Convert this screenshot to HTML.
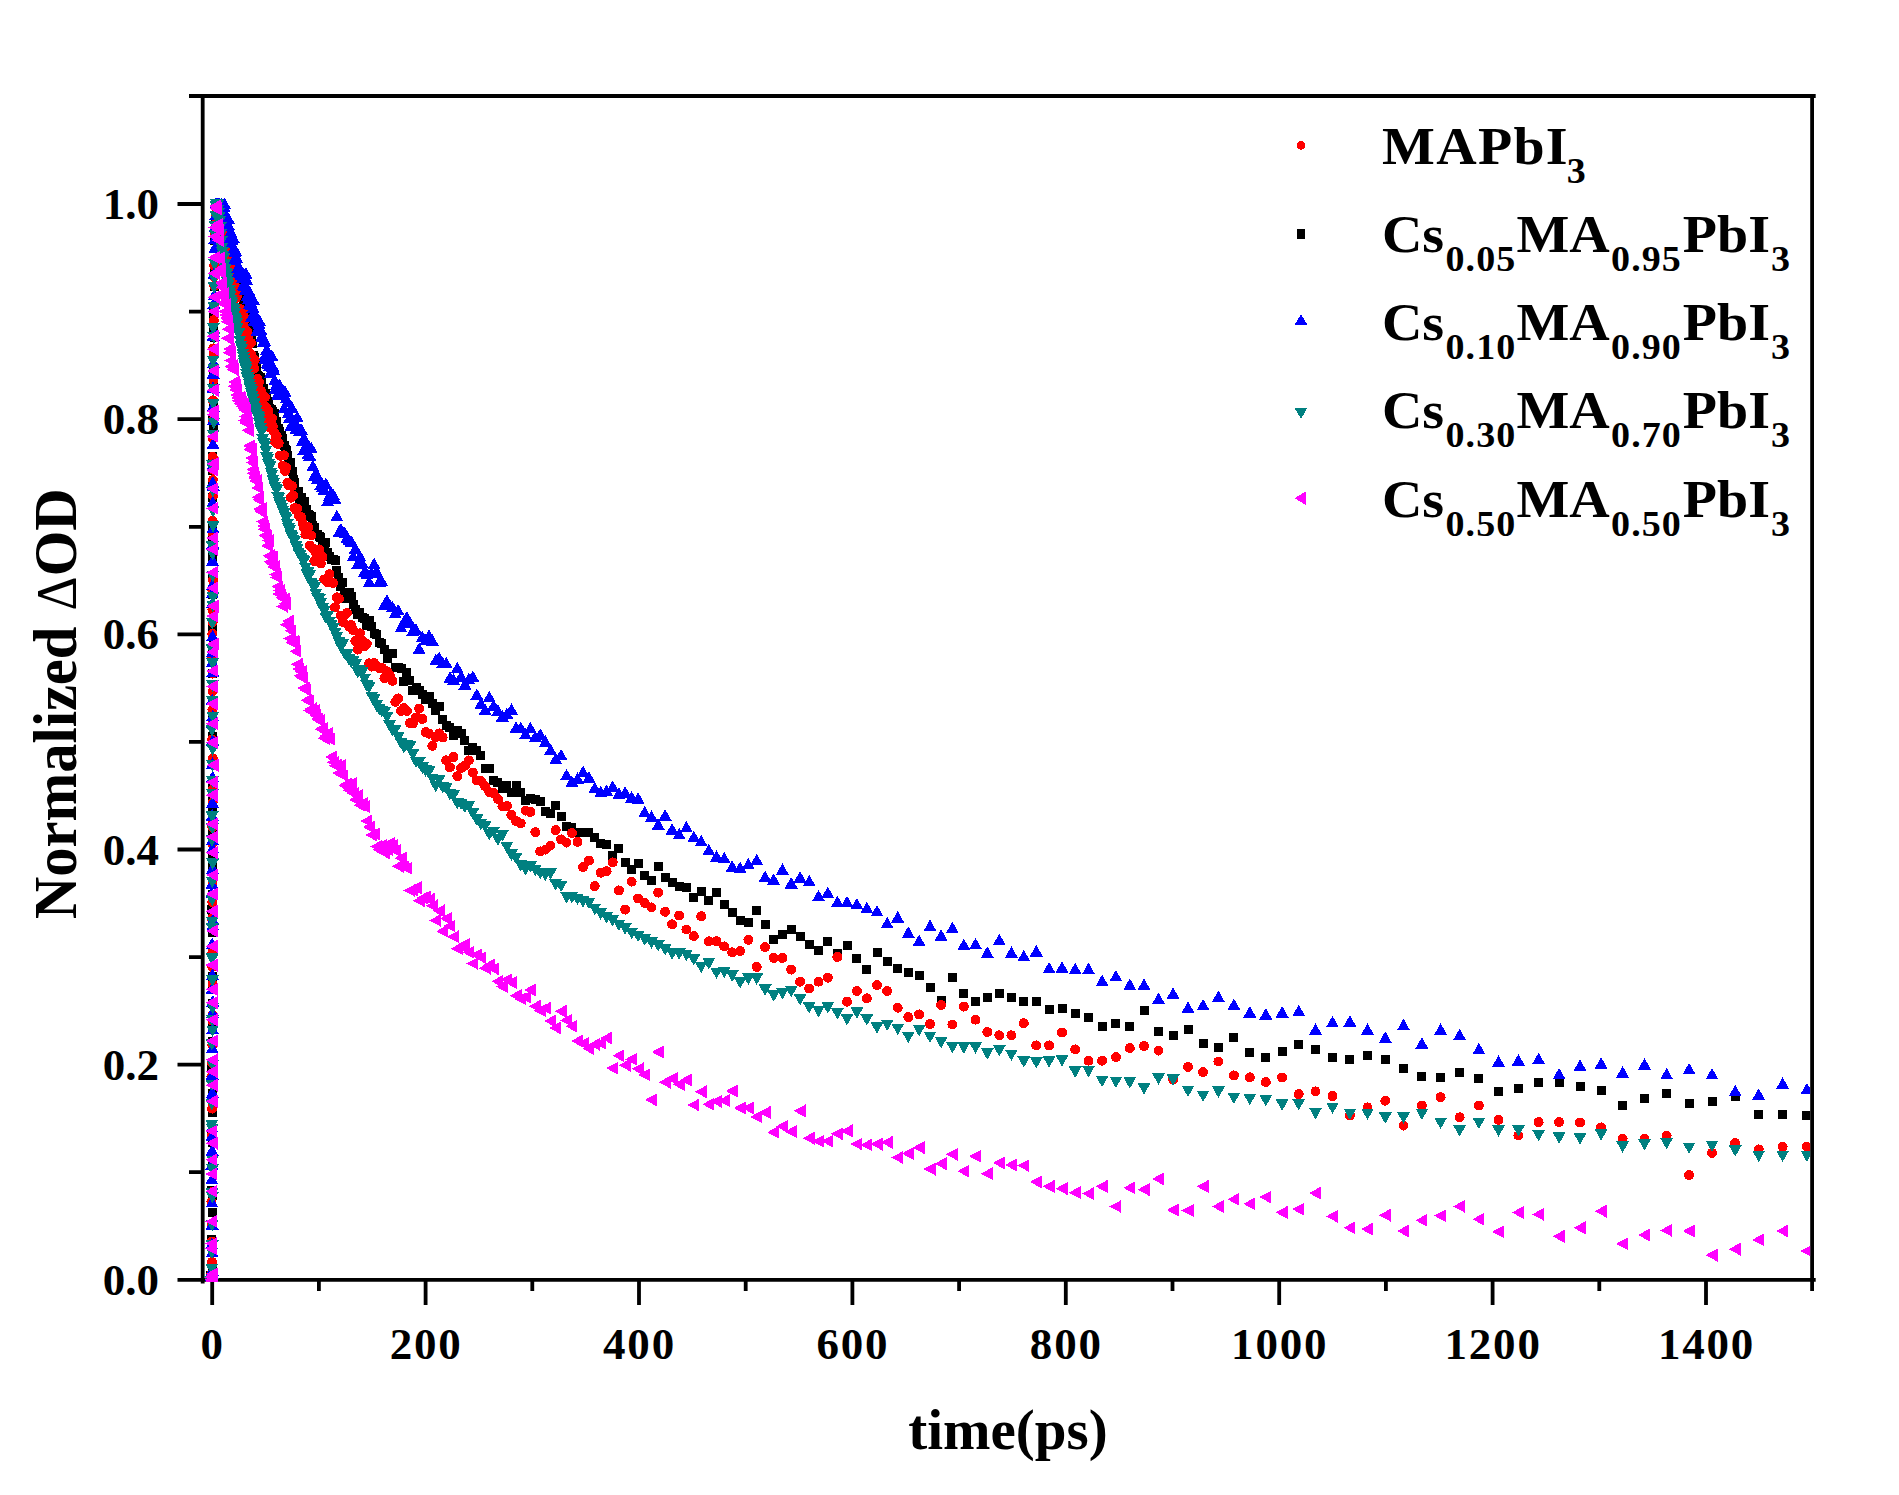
<!DOCTYPE html>
<html lang="en">
<head>
<meta charset="utf-8">
<title>Normalized ΔOD decay kinetics</title>
<style>
html,body{margin:0;padding:0;background:#fff;}
body{width:1899px;height:1495px;overflow:hidden;}
svg{display:block;}
text{font-family:"Liberation Serif",serif;font-weight:bold;fill:#000;}
.tick{font-size:45px;}
.lab{font-size:57px;}
.leg{font-size:56px;}
.sub{font-size:38px;}
</style>
</head>
<body>
<svg width="1899" height="1495" viewBox="0 0 1899 1495">
<rect width="1899" height="1495" fill="#fff"/>
<g stroke="#000" stroke-width="3.8" fill="none">
<path d="M202.7 94.1V1283.5"/>
<path d="M177.5 1279.9H1815.7"/>
<path d="M189 96.0H1815.7"/>
<path d="M1812.1 96.0V1291"/>
<path d="M212.2 1279.9v25M425.6 1279.9v25M639 1279.9v25M852.4 1279.9v25M1065.8 1279.9v25M1279.2 1279.9v25M1492.6 1279.9v25M1706 1279.9v25M318.9 1279.9v11M532.3 1279.9v11M745.7 1279.9v11M959.1 1279.9v11M1172.5 1279.9v11M1385.9 1279.9v11M1599.3 1279.9v11M177.5 1064.6H202.7M177.5 849.5H202.7M177.5 634.3H202.7M177.5 419.2H202.7M177.5 204H202.7M189 1172.2H202.7M189 957.1H202.7M189 741.9H202.7M189 526.8H202.7M189 311.6H202.7"/>
</g>
<defs><clipPath id="pc"><rect x="202.7" y="96.0" width="1607.4" height="1185.9"/></clipPath></defs>
<g clip-path="url(#pc)" shape-rendering="crispEdges">
<path fill="#000000" d="M206.4 1271h9v9h-9zM206.8 1275.9h9v9h-9zM206.9 1132h9v9h-9zM207.2 1234.9h9v9h-9zM207.2 1275.7h9v9h-9zM207.3 905.4h9v9h-9zM207.4 1063.8h9v9h-9zM207.4 1185.6h9v9h-9zM207.5 1264.3h9v9h-9zM207.5 1243.9h9v9h-9zM207.6 1277.5h9v9h-9zM207.6 1036.5h9v9h-9zM207.6 928h9v9h-9zM207.6 1089.3h9v9h-9zM207.6 1019.5h9v9h-9zM207.7 1072.4h9v9h-9zM207.7 910.1h9v9h-9zM207.7 1107.9h9v9h-9zM207.7 1137.5h9v9h-9zM207.7 972.4h9v9h-9zM207.8 1157h9v9h-9zM207.8 981.6h9v9h-9zM207.8 781.4h9v9h-9zM207.8 571.7h9v9h-9zM207.8 669.4h9v9h-9zM207.8 648.9h9v9h-9zM207.8 760.4h9v9h-9zM207.9 804.3h9v9h-9zM207.9 796.7h9v9h-9zM207.9 739.4h9v9h-9zM207.9 1191.4h9v9h-9zM207.9 696.1h9v9h-9zM208 1274.6h9v9h-9zM208 1207.8h9v9h-9zM208 452.3h9v9h-9zM208 589.8h9v9h-9zM208 828.4h9v9h-9zM208 998.7h9v9h-9zM208.1 852h9v9h-9zM208.1 861.9h9v9h-9zM208.1 601.6h9v9h-9zM208.1 709.3h9v9h-9zM208.1 522.2h9v9h-9zM208.1 552.8h9v9h-9zM208.2 948h9v9h-9zM208.2 622h9v9h-9zM208.2 890.3h9v9h-9zM208.2 493h9v9h-9zM208.3 478.5h9v9h-9zM208.3 731.6h9v9h-9zM208.3 1278h9v9h-9zM208.3 416.4h9v9h-9zM208.4 465.9h9v9h-9zM208.4 533.1h9v9h-9zM208.5 639.4h9v9h-9zM208.5 422.9h9v9h-9zM208.5 381.5h9v9h-9zM208.9 398.9h9v9h-9zM209 364.9h9v9h-9zM209.1 326.6h9v9h-9zM209.1 308.5h9v9h-9zM209.5 333h9v9h-9zM209.6 258.1h9v9h-9zM209.6 281.8h9v9h-9zM209.7 268h9v9h-9zM210.3 236.3h9v9h-9zM210.5 227.6h9v9h-9zM211 214.6h9v9h-9zM211.5 213.4h9v9h-9zM212 205.7h9v9h-9zM212.4 199.5h9v9h-9zM213 199.5h9v9h-9zM213.5 199.5h9v9h-9zM214 199.5h9v9h-9zM214.6 199.7h9v9h-9zM215.1 206.5h9v9h-9zM215.7 201.2h9v9h-9zM216.2 207.7h9v9h-9zM216.7 206.2h9v9h-9zM217.3 208.5h9v9h-9zM217.9 211.4h9v9h-9zM218.4 214.5h9v9h-9zM218.9 218.6h9v9h-9zM219.4 218.1h9v9h-9zM220 221.1h9v9h-9zM220.6 230.6h9v9h-9zM221.2 231.4h9v9h-9zM221.8 231.3h9v9h-9zM222.5 233h9v9h-9zM223.2 234.7h9v9h-9zM223.6 239.9h9v9h-9zM224.1 242.5h9v9h-9zM224.7 244.7h9v9h-9zM225.2 244.1h9v9h-9zM225.7 249.2h9v9h-9zM226.3 251.1h9v9h-9zM226.9 251.8h9v9h-9zM227.5 253h9v9h-9zM228.1 257.1h9v9h-9zM228.7 254.5h9v9h-9zM229.4 264h9v9h-9zM230 266.4h9v9h-9zM230.7 266h9v9h-9zM231.5 269.2h9v9h-9zM232.2 269.1h9v9h-9zM233 275h9v9h-9zM233.8 275.6h9v9h-9zM234.6 278.4h9v9h-9zM235.4 279.7h9v9h-9zM236.3 290h9v9h-9zM237.2 290.6h9v9h-9zM238.1 292.8h9v9h-9zM239 299.6h9v9h-9zM239.5 293.2h9v9h-9zM240 298.2h9v9h-9zM240.5 304.8h9v9h-9zM241 305.5h9v9h-9zM241.5 300.9h9v9h-9zM242 310.5h9v9h-9zM242.6 315.2h9v9h-9zM243.1 314.5h9v9h-9zM243.7 317.2h9v9h-9zM244.2 319.1h9v9h-9zM244.8 323.9h9v9h-9zM245.4 326.7h9v9h-9zM245.9 331h9v9h-9zM246.5 332.1h9v9h-9zM247.1 332.7h9v9h-9zM247.7 339.3h9v9h-9zM248.4 339.4h9v9h-9zM249 350.8h9v9h-9zM249.6 353.1h9v9h-9zM250.3 357h9v9h-9zM250.9 358.3h9v9h-9zM251.6 362.8h9v9h-9zM252.3 361.5h9v9h-9zM253 370.9h9v9h-9zM253.7 371.7h9v9h-9zM254.4 374.5h9v9h-9zM255.1 375.9h9v9h-9zM255.8 373.2h9v9h-9zM256.6 376.5h9v9h-9zM257.4 387.5h9v9h-9zM258.1 384.6h9v9h-9zM258.9 384.4h9v9h-9zM259.7 391.2h9v9h-9zM260.5 388.8h9v9h-9zM261.3 397.8h9v9h-9zM262.1 392.4h9v9h-9zM263 401.5h9v9h-9zM263.8 397.4h9v9h-9zM264.7 403.9h9v9h-9zM265.6 407.7h9v9h-9zM266.5 404.5h9v9h-9zM267.4 407.5h9v9h-9zM268.3 407.4h9v9h-9zM269.3 408.8h9v9h-9zM270.2 408.9h9v9h-9zM271.2 417.3h9v9h-9zM272.2 417h9v9h-9zM273.2 423.9h9v9h-9zM274.2 423.5h9v9h-9zM275.2 427h9v9h-9zM276.2 433.2h9v9h-9zM277.3 431.4h9v9h-9zM278.4 434.1h9v9h-9zM279.5 440.9h9v9h-9zM280.6 444.6h9v9h-9zM281.7 446.1h9v9h-9zM282.9 451.1h9v9h-9zM284 458.2h9v9h-9zM285.2 462.4h9v9h-9zM286.4 457.8h9v9h-9zM287.6 467h9v9h-9zM288.8 475.1h9v9h-9zM290.1 477.7h9v9h-9zM291.4 486.5h9v9h-9zM292.7 490.2h9v9h-9zM294 486.9h9v9h-9zM295.3 495.4h9v9h-9zM296.7 492.5h9v9h-9zM298.1 497.1h9v9h-9zM299.5 497h9v9h-9zM300.9 504.8h9v9h-9zM302.3 504.7h9v9h-9zM303.8 509.9h9v9h-9zM305.3 510.5h9v9h-9zM306.8 511.8h9v9h-9zM308.3 520.7h9v9h-9zM309.9 522.9h9v9h-9zM311.4 529.7h9v9h-9zM313 529.5h9v9h-9zM314.7 531.7h9v9h-9zM316.3 533.1h9v9h-9zM318 538.6h9v9h-9zM319.7 541.9h9v9h-9zM321.4 537.9h9v9h-9zM323.2 547.7h9v9h-9zM325 552.1h9v9h-9zM326.8 555.2h9v9h-9zM328.7 554.6h9v9h-9zM330.5 556.2h9v9h-9zM332.4 565.7h9v9h-9zM334.4 572.5h9v9h-9zM336.3 581.7h9v9h-9zM338.3 577.6h9v9h-9zM340.3 587.6h9v9h-9zM342.4 593.9h9v9h-9zM344.5 587.8h9v9h-9zM346.6 591.8h9v9h-9zM348.7 599.8h9v9h-9zM350.9 605.1h9v9h-9zM353.1 610.3h9v9h-9zM355.4 608.2h9v9h-9zM357.7 613.2h9v9h-9zM360 614.3h9v9h-9zM362.3 620.8h9v9h-9zM364.7 615.7h9v9h-9zM367.2 622.3h9v9h-9zM369.6 629.3h9v9h-9zM372.1 630.3h9v9h-9zM374.7 637.5h9v9h-9zM377.2 638.5h9v9h-9zM379.9 645h9v9h-9zM382.5 654.3h9v9h-9zM385.2 649.4h9v9h-9zM388 649h9v9h-9zM390.8 662.9h9v9h-9zM393.6 663.4h9v9h-9zM396.5 663.9h9v9h-9zM399.4 677h9v9h-9zM402.4 667.7h9v9h-9zM405.4 676.3h9v9h-9zM408.4 685.8h9v9h-9zM411.5 683.2h9v9h-9zM414.7 685.7h9v9h-9zM417.9 690h9v9h-9zM421.2 695h9v9h-9zM424.5 691.5h9v9h-9zM427.8 699.2h9v9h-9zM431.2 706.3h9v9h-9zM434.7 702h9v9h-9zM438.2 715.4h9v9h-9zM441.7 721.4h9v9h-9zM445.4 723.4h9v9h-9zM449 731.3h9v9h-9zM452.8 726h9v9h-9zM456.6 729.1h9v9h-9zM460.4 735.5h9v9h-9zM464.3 745.6h9v9h-9zM468.3 743h9v9h-9zM472.3 745.9h9v9h-9zM476.4 751.2h9v9h-9zM480.6 764h9v9h-9zM484.8 763.9h9v9h-9zM489.1 775.7h9v9h-9zM493.4 778.2h9v9h-9zM497.9 783.7h9v9h-9zM502.4 780.9h9v9h-9zM506.9 788.2h9v9h-9zM511.5 780.6h9v9h-9zM516.2 787.7h9v9h-9zM521 796.2h9v9h-9zM525.9 793.5h9v9h-9zM530.8 794.6h9v9h-9zM535.8 797.4h9v9h-9zM540.9 807.1h9v9h-9zM546 809h9v9h-9zM551.2 801h9v9h-9zM556.6 811.6h9v9h-9zM562 821.9h9v9h-9zM567.4 822.6h9v9h-9zM573 828.4h9v9h-9zM578.6 828h9v9h-9zM584.4 827.8h9v9h-9zM590.2 833.4h9v9h-9zM596.1 838.7h9v9h-9zM602.1 840.2h9v9h-9zM608.2 851.2h9v9h-9zM614.4 844.3h9v9h-9zM620.7 857.9h9v9h-9zM627.1 865.3h9v9h-9zM633.6 859.4h9v9h-9zM640.2 871.2h9v9h-9zM646.9 876.3h9v9h-9zM653.7 861.6h9v9h-9zM660.6 873.4h9v9h-9zM667.6 877.8h9v9h-9zM674.7 882.2h9v9h-9zM681.9 882.9h9v9h-9zM689.3 892.5h9v9h-9zM696.7 886.6h9v9h-9zM704.3 895.5h9v9h-9zM712 888.1h9v9h-9zM719.8 899.9h9v9h-9zM727.7 908h9v9h-9zM735.7 916.1h9v9h-9zM743.9 917.6h9v9h-9zM752.2 905.8h9v9h-9zM760.6 919.8h9v9h-9zM769.2 934.6h9v9h-9zM777.9 930.1h9v9h-9zM786.7 925h9v9h-9zM795.6 932.3h9v9h-9zM804.7 939.7h9v9h-9zM814 946.4h9v9h-9zM823.3 936.8h9v9h-9zM832.9 949.3h9v9h-9zM842.5 940.5h9v9h-9zM852.4 953.7h9v9h-9zM862.3 965.2h9v9h-9zM872.5 948.3h9v9h-9zM882.7 957.2h9v9h-9zM893.2 963.9h9v9h-9zM903.8 967.9h9v9h-9zM914.6 971.4h9v9h-9zM925.5 983.1h9v9h-9zM936.6 996h9v9h-9zM947.9 973.2h9v9h-9zM959.3 988.5h9v9h-9zM971 997.3h9v9h-9zM982.8 992.8h9v9h-9zM994.8 988.5h9v9h-9zM1006.9 992.8h9v9h-9zM1019.3 996.5h9v9h-9zM1031.8 996.5h9v9h-9zM1044.6 1004.5h9v9h-9zM1057.5 1004h9v9h-9zM1070.7 1008.5h9v9h-9zM1084 1012.8h9v9h-9zM1097.6 1021.9h9v9h-9zM1111.4 1018.7h9v9h-9zM1125.3 1021.9h9v9h-9zM1139.5 1006.1h9v9h-9zM1154 1027.3h9v9h-9zM1168.6 1031.3h9v9h-9zM1183.5 1025.4h9v9h-9zM1198.6 1039.3h9v9h-9zM1213.9 1042.8h9v9h-9zM1229.4 1032.9h9v9h-9zM1245.3 1048.1h9v9h-9zM1261.3 1052.7h9v9h-9zM1277.6 1046.8h9v9h-9zM1294.2 1039.6h9v9h-9zM1311 1044.9h9v9h-9zM1328 1052.7h9v9h-9zM1345.4 1054.7h9v9h-9zM1363 1050.7h9v9h-9zM1380.8 1054.7h9v9h-9zM1399 1064.1h9v9h-9zM1417.4 1072.1h9v9h-9zM1436.1 1073.4h9v9h-9zM1455.1 1068.1h9v9h-9zM1474.4 1074.2h9v9h-9zM1494 1086.8h9v9h-9zM1513.9 1083.6h9v9h-9zM1534.1 1078h9v9h-9zM1554.6 1078.2h9v9h-9zM1575.5 1081.5h9v9h-9zM1596.6 1085.5h9v9h-9zM1618.1 1101h9v9h-9zM1640 1093.5h9v9h-9zM1662.1 1088.9h9v9h-9zM1684.6 1098.8h9v9h-9zM1707.5 1096.7h9v9h-9zM1730.7 1092.2h9v9h-9zM1754.2 1110.3h9v9h-9zM1778.1 1110.3h9v9h-9zM1802.4 1110.9h9v9h-9z"/>
<path fill="#ff0000" d="M205.9 1275a5 5 0 1 0 10 0a5 5 0 1 0-10 0zM206.3 1275.5a5 5 0 1 0 10 0a5 5 0 1 0-10 0zM206.4 1076.7a5 5 0 1 0 10 0a5 5 0 1 0-10 0zM206.4 1201.6a5 5 0 1 0 10 0a5 5 0 1 0-10 0zM206.5 1263a5 5 0 1 0 10 0a5 5 0 1 0-10 0zM206.7 1279.7a5 5 0 1 0 10 0a5 5 0 1 0-10 0zM206.8 1224.5a5 5 0 1 0 10 0a5 5 0 1 0-10 0zM206.9 1241.6a5 5 0 1 0 10 0a5 5 0 1 0-10 0zM206.9 1261.9a5 5 0 1 0 10 0a5 5 0 1 0-10 0zM206.9 1135.2a5 5 0 1 0 10 0a5 5 0 1 0-10 0zM207 1192.1a5 5 0 1 0 10 0a5 5 0 1 0-10 0zM207.1 1279.3a5 5 0 1 0 10 0a5 5 0 1 0-10 0zM207.1 658a5 5 0 1 0 10 0a5 5 0 1 0-10 0zM207.1 1108.6a5 5 0 1 0 10 0a5 5 0 1 0-10 0zM207.1 1062.9a5 5 0 1 0 10 0a5 5 0 1 0-10 0zM207.1 918.6a5 5 0 1 0 10 0a5 5 0 1 0-10 0zM207.2 739.4a5 5 0 1 0 10 0a5 5 0 1 0-10 0zM207.2 1154.6a5 5 0 1 0 10 0a5 5 0 1 0-10 0zM207.2 589.1a5 5 0 1 0 10 0a5 5 0 1 0-10 0zM207.3 902.2a5 5 0 1 0 10 0a5 5 0 1 0-10 0zM207.3 843.6a5 5 0 1 0 10 0a5 5 0 1 0-10 0zM207.3 633.8a5 5 0 1 0 10 0a5 5 0 1 0-10 0zM207.3 1166.9a5 5 0 1 0 10 0a5 5 0 1 0-10 0zM207.3 1045.2a5 5 0 1 0 10 0a5 5 0 1 0-10 0zM207.3 967a5 5 0 1 0 10 0a5 5 0 1 0-10 0zM207.3 953.5a5 5 0 1 0 10 0a5 5 0 1 0-10 0zM207.3 1101.8a5 5 0 1 0 10 0a5 5 0 1 0-10 0zM207.3 827.3a5 5 0 1 0 10 0a5 5 0 1 0-10 0zM207.4 789.8a5 5 0 1 0 10 0a5 5 0 1 0-10 0zM207.4 1020.8a5 5 0 1 0 10 0a5 5 0 1 0-10 0zM207.4 720.6a5 5 0 1 0 10 0a5 5 0 1 0-10 0zM207.4 609.7a5 5 0 1 0 10 0a5 5 0 1 0-10 0zM207.4 709.7a5 5 0 1 0 10 0a5 5 0 1 0-10 0zM207.4 823.3a5 5 0 1 0 10 0a5 5 0 1 0-10 0zM207.5 1276.5a5 5 0 1 0 10 0a5 5 0 1 0-10 0zM207.5 946.8a5 5 0 1 0 10 0a5 5 0 1 0-10 0zM207.5 984a5 5 0 1 0 10 0a5 5 0 1 0-10 0zM207.5 881.7a5 5 0 1 0 10 0a5 5 0 1 0-10 0zM207.6 520.8a5 5 0 1 0 10 0a5 5 0 1 0-10 0zM207.6 622.4a5 5 0 1 0 10 0a5 5 0 1 0-10 0zM207.7 1014.8a5 5 0 1 0 10 0a5 5 0 1 0-10 0zM207.7 691.3a5 5 0 1 0 10 0a5 5 0 1 0-10 0zM207.7 456.8a5 5 0 1 0 10 0a5 5 0 1 0-10 0zM207.7 802.3a5 5 0 1 0 10 0a5 5 0 1 0-10 0zM207.8 438.4a5 5 0 1 0 10 0a5 5 0 1 0-10 0zM207.8 673.6a5 5 0 1 0 10 0a5 5 0 1 0-10 0zM207.8 480a5 5 0 1 0 10 0a5 5 0 1 0-10 0zM207.8 758.3a5 5 0 1 0 10 0a5 5 0 1 0-10 0zM207.8 550.4a5 5 0 1 0 10 0a5 5 0 1 0-10 0zM207.8 874a5 5 0 1 0 10 0a5 5 0 1 0-10 0zM207.8 1280.1a5 5 0 1 0 10 0a5 5 0 1 0-10 0zM207.8 533.5a5 5 0 1 0 10 0a5 5 0 1 0-10 0zM207.9 580.2a5 5 0 1 0 10 0a5 5 0 1 0-10 0zM208 400.4a5 5 0 1 0 10 0a5 5 0 1 0-10 0zM208.1 495.8a5 5 0 1 0 10 0a5 5 0 1 0-10 0zM208.1 420a5 5 0 1 0 10 0a5 5 0 1 0-10 0zM208.2 469.8a5 5 0 1 0 10 0a5 5 0 1 0-10 0zM208.3 348.4a5 5 0 1 0 10 0a5 5 0 1 0-10 0zM208.5 380.4a5 5 0 1 0 10 0a5 5 0 1 0-10 0zM208.5 354.6a5 5 0 1 0 10 0a5 5 0 1 0-10 0zM208.8 320.1a5 5 0 1 0 10 0a5 5 0 1 0-10 0zM208.8 306.5a5 5 0 1 0 10 0a5 5 0 1 0-10 0zM209 276.3a5 5 0 1 0 10 0a5 5 0 1 0-10 0zM209.2 265.8a5 5 0 1 0 10 0a5 5 0 1 0-10 0zM209.3 285.9a5 5 0 1 0 10 0a5 5 0 1 0-10 0zM210 231.9a5 5 0 1 0 10 0a5 5 0 1 0-10 0zM210.1 234.7a5 5 0 1 0 10 0a5 5 0 1 0-10 0zM210.5 223.7a5 5 0 1 0 10 0a5 5 0 1 0-10 0zM211 214a5 5 0 1 0 10 0a5 5 0 1 0-10 0zM211.5 205.8a5 5 0 1 0 10 0a5 5 0 1 0-10 0zM211.9 204.3a5 5 0 1 0 10 0a5 5 0 1 0-10 0zM212.5 215.5a5 5 0 1 0 10 0a5 5 0 1 0-10 0zM213 208.1a5 5 0 1 0 10 0a5 5 0 1 0-10 0zM213.5 211.1a5 5 0 1 0 10 0a5 5 0 1 0-10 0zM214.1 216.9a5 5 0 1 0 10 0a5 5 0 1 0-10 0zM214.6 210.9a5 5 0 1 0 10 0a5 5 0 1 0-10 0zM215.2 221.4a5 5 0 1 0 10 0a5 5 0 1 0-10 0zM215.7 215.6a5 5 0 1 0 10 0a5 5 0 1 0-10 0zM216.2 216.6a5 5 0 1 0 10 0a5 5 0 1 0-10 0zM216.8 224.7a5 5 0 1 0 10 0a5 5 0 1 0-10 0zM217.4 227a5 5 0 1 0 10 0a5 5 0 1 0-10 0zM217.9 234.3a5 5 0 1 0 10 0a5 5 0 1 0-10 0zM218.4 236a5 5 0 1 0 10 0a5 5 0 1 0-10 0zM218.9 235.2a5 5 0 1 0 10 0a5 5 0 1 0-10 0zM219.5 235.4a5 5 0 1 0 10 0a5 5 0 1 0-10 0zM220.1 240.3a5 5 0 1 0 10 0a5 5 0 1 0-10 0zM220.7 239.7a5 5 0 1 0 10 0a5 5 0 1 0-10 0zM221.3 252.5a5 5 0 1 0 10 0a5 5 0 1 0-10 0zM222 250.1a5 5 0 1 0 10 0a5 5 0 1 0-10 0zM222.7 257a5 5 0 1 0 10 0a5 5 0 1 0-10 0zM223.1 258.2a5 5 0 1 0 10 0a5 5 0 1 0-10 0zM223.6 257.1a5 5 0 1 0 10 0a5 5 0 1 0-10 0zM224.2 263.2a5 5 0 1 0 10 0a5 5 0 1 0-10 0zM224.7 260.7a5 5 0 1 0 10 0a5 5 0 1 0-10 0zM225.2 250.7a5 5 0 1 0 10 0a5 5 0 1 0-10 0zM225.8 255.4a5 5 0 1 0 10 0a5 5 0 1 0-10 0zM226.4 266.8a5 5 0 1 0 10 0a5 5 0 1 0-10 0zM227 270.7a5 5 0 1 0 10 0a5 5 0 1 0-10 0zM227.6 279.7a5 5 0 1 0 10 0a5 5 0 1 0-10 0zM228.2 276.1a5 5 0 1 0 10 0a5 5 0 1 0-10 0zM228.9 278.1a5 5 0 1 0 10 0a5 5 0 1 0-10 0zM229.5 280.7a5 5 0 1 0 10 0a5 5 0 1 0-10 0zM230.2 286.6a5 5 0 1 0 10 0a5 5 0 1 0-10 0zM231 298a5 5 0 1 0 10 0a5 5 0 1 0-10 0zM231.7 296a5 5 0 1 0 10 0a5 5 0 1 0-10 0zM232.5 294.9a5 5 0 1 0 10 0a5 5 0 1 0-10 0zM233.3 289.5a5 5 0 1 0 10 0a5 5 0 1 0-10 0zM234.1 289.7a5 5 0 1 0 10 0a5 5 0 1 0-10 0zM234.9 308.9a5 5 0 1 0 10 0a5 5 0 1 0-10 0zM235.8 316.8a5 5 0 1 0 10 0a5 5 0 1 0-10 0zM236.7 313.1a5 5 0 1 0 10 0a5 5 0 1 0-10 0zM237.6 320.6a5 5 0 1 0 10 0a5 5 0 1 0-10 0zM238.5 312.3a5 5 0 1 0 10 0a5 5 0 1 0-10 0zM239 326.6a5 5 0 1 0 10 0a5 5 0 1 0-10 0zM239.5 320.5a5 5 0 1 0 10 0a5 5 0 1 0-10 0zM240 335.3a5 5 0 1 0 10 0a5 5 0 1 0-10 0zM240.5 319.1a5 5 0 1 0 10 0a5 5 0 1 0-10 0zM241 332.1a5 5 0 1 0 10 0a5 5 0 1 0-10 0zM241.5 342.3a5 5 0 1 0 10 0a5 5 0 1 0-10 0zM242.1 341.6a5 5 0 1 0 10 0a5 5 0 1 0-10 0zM242.6 332a5 5 0 1 0 10 0a5 5 0 1 0-10 0zM243.2 335.3a5 5 0 1 0 10 0a5 5 0 1 0-10 0zM243.7 351.8a5 5 0 1 0 10 0a5 5 0 1 0-10 0zM244.3 353.8a5 5 0 1 0 10 0a5 5 0 1 0-10 0zM244.9 359.8a5 5 0 1 0 10 0a5 5 0 1 0-10 0zM245.4 357.8a5 5 0 1 0 10 0a5 5 0 1 0-10 0zM246 342.8a5 5 0 1 0 10 0a5 5 0 1 0-10 0zM246.6 355.1a5 5 0 1 0 10 0a5 5 0 1 0-10 0zM247.2 358.2a5 5 0 1 0 10 0a5 5 0 1 0-10 0zM247.9 362a5 5 0 1 0 10 0a5 5 0 1 0-10 0zM248.5 363.4a5 5 0 1 0 10 0a5 5 0 1 0-10 0zM249.1 368.7a5 5 0 1 0 10 0a5 5 0 1 0-10 0zM249.8 359.9a5 5 0 1 0 10 0a5 5 0 1 0-10 0zM250.4 384.2a5 5 0 1 0 10 0a5 5 0 1 0-10 0zM251.1 385.3a5 5 0 1 0 10 0a5 5 0 1 0-10 0zM251.8 385.2a5 5 0 1 0 10 0a5 5 0 1 0-10 0zM252.5 378.6a5 5 0 1 0 10 0a5 5 0 1 0-10 0zM253.2 387.6a5 5 0 1 0 10 0a5 5 0 1 0-10 0zM253.9 382.3a5 5 0 1 0 10 0a5 5 0 1 0-10 0zM254.6 392.8a5 5 0 1 0 10 0a5 5 0 1 0-10 0zM255.3 395.8a5 5 0 1 0 10 0a5 5 0 1 0-10 0zM256.1 390.9a5 5 0 1 0 10 0a5 5 0 1 0-10 0zM256.9 402.6a5 5 0 1 0 10 0a5 5 0 1 0-10 0zM257.6 403.2a5 5 0 1 0 10 0a5 5 0 1 0-10 0zM258.4 407.9a5 5 0 1 0 10 0a5 5 0 1 0-10 0zM259.2 411.9a5 5 0 1 0 10 0a5 5 0 1 0-10 0zM260 397.1a5 5 0 1 0 10 0a5 5 0 1 0-10 0zM260.8 406.8a5 5 0 1 0 10 0a5 5 0 1 0-10 0zM261.6 420.7a5 5 0 1 0 10 0a5 5 0 1 0-10 0zM262.5 418.9a5 5 0 1 0 10 0a5 5 0 1 0-10 0zM263.3 410.5a5 5 0 1 0 10 0a5 5 0 1 0-10 0zM264.2 427.3a5 5 0 1 0 10 0a5 5 0 1 0-10 0zM265.1 420.4a5 5 0 1 0 10 0a5 5 0 1 0-10 0zM266 427.3a5 5 0 1 0 10 0a5 5 0 1 0-10 0zM266.9 418.3a5 5 0 1 0 10 0a5 5 0 1 0-10 0zM267.8 426.6a5 5 0 1 0 10 0a5 5 0 1 0-10 0zM268.8 431.8a5 5 0 1 0 10 0a5 5 0 1 0-10 0zM269.7 441.2a5 5 0 1 0 10 0a5 5 0 1 0-10 0zM270.7 437.5a5 5 0 1 0 10 0a5 5 0 1 0-10 0zM271.7 436.1a5 5 0 1 0 10 0a5 5 0 1 0-10 0zM272.7 444a5 5 0 1 0 10 0a5 5 0 1 0-10 0zM273.7 443.4a5 5 0 1 0 10 0a5 5 0 1 0-10 0zM274.7 455.5a5 5 0 1 0 10 0a5 5 0 1 0-10 0zM275.7 455.8a5 5 0 1 0 10 0a5 5 0 1 0-10 0zM276.8 455.5a5 5 0 1 0 10 0a5 5 0 1 0-10 0zM277.9 465.7a5 5 0 1 0 10 0a5 5 0 1 0-10 0zM279 455.3a5 5 0 1 0 10 0a5 5 0 1 0-10 0zM280.1 471a5 5 0 1 0 10 0a5 5 0 1 0-10 0zM281.2 467.3a5 5 0 1 0 10 0a5 5 0 1 0-10 0zM282.4 482.9a5 5 0 1 0 10 0a5 5 0 1 0-10 0zM283.5 485a5 5 0 1 0 10 0a5 5 0 1 0-10 0zM284.7 484.9a5 5 0 1 0 10 0a5 5 0 1 0-10 0zM285.9 497.7a5 5 0 1 0 10 0a5 5 0 1 0-10 0zM287.1 485.9a5 5 0 1 0 10 0a5 5 0 1 0-10 0zM288.3 495.4a5 5 0 1 0 10 0a5 5 0 1 0-10 0zM289.6 508.1a5 5 0 1 0 10 0a5 5 0 1 0-10 0zM290.9 510.1a5 5 0 1 0 10 0a5 5 0 1 0-10 0zM292.2 508.8a5 5 0 1 0 10 0a5 5 0 1 0-10 0zM293.5 515.5a5 5 0 1 0 10 0a5 5 0 1 0-10 0zM294.8 517a5 5 0 1 0 10 0a5 5 0 1 0-10 0zM296.2 517.2a5 5 0 1 0 10 0a5 5 0 1 0-10 0zM297.6 523.4a5 5 0 1 0 10 0a5 5 0 1 0-10 0zM299 527.8a5 5 0 1 0 10 0a5 5 0 1 0-10 0zM300.4 534.5a5 5 0 1 0 10 0a5 5 0 1 0-10 0zM301.8 528.2a5 5 0 1 0 10 0a5 5 0 1 0-10 0zM303.3 527.1a5 5 0 1 0 10 0a5 5 0 1 0-10 0zM304.8 545.6a5 5 0 1 0 10 0a5 5 0 1 0-10 0zM306.3 535.4a5 5 0 1 0 10 0a5 5 0 1 0-10 0zM307.8 548.3a5 5 0 1 0 10 0a5 5 0 1 0-10 0zM309.4 561a5 5 0 1 0 10 0a5 5 0 1 0-10 0zM310.9 552.8a5 5 0 1 0 10 0a5 5 0 1 0-10 0zM312.5 560.1a5 5 0 1 0 10 0a5 5 0 1 0-10 0zM314.2 549.4a5 5 0 1 0 10 0a5 5 0 1 0-10 0zM315.8 563.5a5 5 0 1 0 10 0a5 5 0 1 0-10 0zM317.5 556.7a5 5 0 1 0 10 0a5 5 0 1 0-10 0zM319.2 579.4a5 5 0 1 0 10 0a5 5 0 1 0-10 0zM320.9 579.1a5 5 0 1 0 10 0a5 5 0 1 0-10 0zM322.7 582.3a5 5 0 1 0 10 0a5 5 0 1 0-10 0zM324.5 574.2a5 5 0 1 0 10 0a5 5 0 1 0-10 0zM326.3 582.2a5 5 0 1 0 10 0a5 5 0 1 0-10 0zM328.2 582.9a5 5 0 1 0 10 0a5 5 0 1 0-10 0zM330 607.4a5 5 0 1 0 10 0a5 5 0 1 0-10 0zM331.9 597.3a5 5 0 1 0 10 0a5 5 0 1 0-10 0zM333.9 598.7a5 5 0 1 0 10 0a5 5 0 1 0-10 0zM335.8 615.5a5 5 0 1 0 10 0a5 5 0 1 0-10 0zM337.8 621.9a5 5 0 1 0 10 0a5 5 0 1 0-10 0zM339.8 615.2a5 5 0 1 0 10 0a5 5 0 1 0-10 0zM341.9 613.1a5 5 0 1 0 10 0a5 5 0 1 0-10 0zM344 626.3a5 5 0 1 0 10 0a5 5 0 1 0-10 0zM346.1 625.1a5 5 0 1 0 10 0a5 5 0 1 0-10 0zM348.2 630.2a5 5 0 1 0 10 0a5 5 0 1 0-10 0zM350.4 641a5 5 0 1 0 10 0a5 5 0 1 0-10 0zM352.6 649.6a5 5 0 1 0 10 0a5 5 0 1 0-10 0zM354.9 633.3a5 5 0 1 0 10 0a5 5 0 1 0-10 0zM357.2 640.6a5 5 0 1 0 10 0a5 5 0 1 0-10 0zM359.5 646.4a5 5 0 1 0 10 0a5 5 0 1 0-10 0zM361.8 643.8a5 5 0 1 0 10 0a5 5 0 1 0-10 0zM364.2 663.3a5 5 0 1 0 10 0a5 5 0 1 0-10 0zM366.7 666.6a5 5 0 1 0 10 0a5 5 0 1 0-10 0zM369.1 663a5 5 0 1 0 10 0a5 5 0 1 0-10 0zM371.6 666.4a5 5 0 1 0 10 0a5 5 0 1 0-10 0zM374.2 668.1a5 5 0 1 0 10 0a5 5 0 1 0-10 0zM376.7 667.6a5 5 0 1 0 10 0a5 5 0 1 0-10 0zM379.4 678.1a5 5 0 1 0 10 0a5 5 0 1 0-10 0zM382 671.3a5 5 0 1 0 10 0a5 5 0 1 0-10 0zM384.7 675.1a5 5 0 1 0 10 0a5 5 0 1 0-10 0zM387.5 680.8a5 5 0 1 0 10 0a5 5 0 1 0-10 0zM390.3 701.8a5 5 0 1 0 10 0a5 5 0 1 0-10 0zM393.1 698.4a5 5 0 1 0 10 0a5 5 0 1 0-10 0zM396 710.8a5 5 0 1 0 10 0a5 5 0 1 0-10 0zM398.9 708a5 5 0 1 0 10 0a5 5 0 1 0-10 0zM401.9 711a5 5 0 1 0 10 0a5 5 0 1 0-10 0zM404.9 723.1a5 5 0 1 0 10 0a5 5 0 1 0-10 0zM407.9 723.5a5 5 0 1 0 10 0a5 5 0 1 0-10 0zM411 717.6a5 5 0 1 0 10 0a5 5 0 1 0-10 0zM414.2 708.6a5 5 0 1 0 10 0a5 5 0 1 0-10 0zM417.4 719a5 5 0 1 0 10 0a5 5 0 1 0-10 0zM420.7 732.1a5 5 0 1 0 10 0a5 5 0 1 0-10 0zM424 733.7a5 5 0 1 0 10 0a5 5 0 1 0-10 0zM427.3 745.8a5 5 0 1 0 10 0a5 5 0 1 0-10 0zM430.7 737.2a5 5 0 1 0 10 0a5 5 0 1 0-10 0zM434.2 733.4a5 5 0 1 0 10 0a5 5 0 1 0-10 0zM437.7 737.5a5 5 0 1 0 10 0a5 5 0 1 0-10 0zM441.2 760.3a5 5 0 1 0 10 0a5 5 0 1 0-10 0zM444.9 767.3a5 5 0 1 0 10 0a5 5 0 1 0-10 0zM448.5 757a5 5 0 1 0 10 0a5 5 0 1 0-10 0zM452.3 776.3a5 5 0 1 0 10 0a5 5 0 1 0-10 0zM456.1 768a5 5 0 1 0 10 0a5 5 0 1 0-10 0zM459.9 765.8a5 5 0 1 0 10 0a5 5 0 1 0-10 0zM463.8 760.4a5 5 0 1 0 10 0a5 5 0 1 0-10 0zM467.8 772.6a5 5 0 1 0 10 0a5 5 0 1 0-10 0zM471.8 780.4a5 5 0 1 0 10 0a5 5 0 1 0-10 0zM475.9 781.2a5 5 0 1 0 10 0a5 5 0 1 0-10 0zM480.1 786.2a5 5 0 1 0 10 0a5 5 0 1 0-10 0zM484.3 792.2a5 5 0 1 0 10 0a5 5 0 1 0-10 0zM488.6 793.1a5 5 0 1 0 10 0a5 5 0 1 0-10 0zM492.9 799.2a5 5 0 1 0 10 0a5 5 0 1 0-10 0zM497.4 806.4a5 5 0 1 0 10 0a5 5 0 1 0-10 0zM501.9 805.9a5 5 0 1 0 10 0a5 5 0 1 0-10 0zM506.4 815a5 5 0 1 0 10 0a5 5 0 1 0-10 0zM511 821a5 5 0 1 0 10 0a5 5 0 1 0-10 0zM515.7 823.4a5 5 0 1 0 10 0a5 5 0 1 0-10 0zM520.5 810.6a5 5 0 1 0 10 0a5 5 0 1 0-10 0zM525.4 811.9a5 5 0 1 0 10 0a5 5 0 1 0-10 0zM530.3 832.2a5 5 0 1 0 10 0a5 5 0 1 0-10 0zM535.3 851.4a5 5 0 1 0 10 0a5 5 0 1 0-10 0zM540.4 849.6a5 5 0 1 0 10 0a5 5 0 1 0-10 0zM545.5 845.5a5 5 0 1 0 10 0a5 5 0 1 0-10 0zM550.7 830.1a5 5 0 1 0 10 0a5 5 0 1 0-10 0zM556.1 839.4a5 5 0 1 0 10 0a5 5 0 1 0-10 0zM561.5 842.6a5 5 0 1 0 10 0a5 5 0 1 0-10 0zM566.9 833a5 5 0 1 0 10 0a5 5 0 1 0-10 0zM572.5 841.8a5 5 0 1 0 10 0a5 5 0 1 0-10 0zM578.1 867.1a5 5 0 1 0 10 0a5 5 0 1 0-10 0zM583.9 860.6a5 5 0 1 0 10 0a5 5 0 1 0-10 0zM589.7 886.1a5 5 0 1 0 10 0a5 5 0 1 0-10 0zM595.6 872.7a5 5 0 1 0 10 0a5 5 0 1 0-10 0zM601.6 871.2a5 5 0 1 0 10 0a5 5 0 1 0-10 0zM607.7 862.4a5 5 0 1 0 10 0a5 5 0 1 0-10 0zM613.9 890.4a5 5 0 1 0 10 0a5 5 0 1 0-10 0zM620.2 909.6a5 5 0 1 0 10 0a5 5 0 1 0-10 0zM626.6 881.6a5 5 0 1 0 10 0a5 5 0 1 0-10 0zM633.1 898.5a5 5 0 1 0 10 0a5 5 0 1 0-10 0zM639.7 902.9a5 5 0 1 0 10 0a5 5 0 1 0-10 0zM646.4 907.4a5 5 0 1 0 10 0a5 5 0 1 0-10 0zM653.2 892.6a5 5 0 1 0 10 0a5 5 0 1 0-10 0zM660.1 911.8a5 5 0 1 0 10 0a5 5 0 1 0-10 0zM667.1 924.3a5 5 0 1 0 10 0a5 5 0 1 0-10 0zM674.2 915.5a5 5 0 1 0 10 0a5 5 0 1 0-10 0zM681.4 929.5a5 5 0 1 0 10 0a5 5 0 1 0-10 0zM688.8 936.1a5 5 0 1 0 10 0a5 5 0 1 0-10 0zM696.2 916.2a5 5 0 1 0 10 0a5 5 0 1 0-10 0zM703.8 941.3a5 5 0 1 0 10 0a5 5 0 1 0-10 0zM711.5 941.3a5 5 0 1 0 10 0a5 5 0 1 0-10 0zM719.3 946.4a5 5 0 1 0 10 0a5 5 0 1 0-10 0zM727.2 952.3a5 5 0 1 0 10 0a5 5 0 1 0-10 0zM735.2 950.9a5 5 0 1 0 10 0a5 5 0 1 0-10 0zM743.4 939.8a5 5 0 1 0 10 0a5 5 0 1 0-10 0zM751.7 966.9a5 5 0 1 0 10 0a5 5 0 1 0-10 0zM760.1 947.2a5 5 0 1 0 10 0a5 5 0 1 0-10 0zM768.7 957.9a5 5 0 1 0 10 0a5 5 0 1 0-10 0zM777.4 957.9a5 5 0 1 0 10 0a5 5 0 1 0-10 0zM786.2 969.6a5 5 0 1 0 10 0a5 5 0 1 0-10 0zM795.1 981.7a5 5 0 1 0 10 0a5 5 0 1 0-10 0zM804.2 988.5a5 5 0 1 0 10 0a5 5 0 1 0-10 0zM813.5 981.7a5 5 0 1 0 10 0a5 5 0 1 0-10 0zM822.8 977.7a5 5 0 1 0 10 0a5 5 0 1 0-10 0zM832.4 957a5 5 0 1 0 10 0a5 5 0 1 0-10 0zM842 1001.7a5 5 0 1 0 10 0a5 5 0 1 0-10 0zM851.9 991a5 5 0 1 0 10 0a5 5 0 1 0-10 0zM861.8 998.3a5 5 0 1 0 10 0a5 5 0 1 0-10 0zM872 985.2a5 5 0 1 0 10 0a5 5 0 1 0-10 0zM882.2 991.1a5 5 0 1 0 10 0a5 5 0 1 0-10 0zM892.7 1007.7a5 5 0 1 0 10 0a5 5 0 1 0-10 0zM903.3 1017.1a5 5 0 1 0 10 0a5 5 0 1 0-10 0zM914.1 1014.4a5 5 0 1 0 10 0a5 5 0 1 0-10 0zM925 1024a5 5 0 1 0 10 0a5 5 0 1 0-10 0zM936.1 1005a5 5 0 1 0 10 0a5 5 0 1 0-10 0zM947.4 1024.5a5 5 0 1 0 10 0a5 5 0 1 0-10 0zM958.8 1006.6a5 5 0 1 0 10 0a5 5 0 1 0-10 0zM970.5 1019.7a5 5 0 1 0 10 0a5 5 0 1 0-10 0zM982.3 1032a5 5 0 1 0 10 0a5 5 0 1 0-10 0zM994.3 1035.3a5 5 0 1 0 10 0a5 5 0 1 0-10 0zM1006.4 1035.3a5 5 0 1 0 10 0a5 5 0 1 0-10 0zM1018.8 1023.2a5 5 0 1 0 10 0a5 5 0 1 0-10 0zM1031.3 1045.4a5 5 0 1 0 10 0a5 5 0 1 0-10 0zM1044.1 1045.4a5 5 0 1 0 10 0a5 5 0 1 0-10 0zM1057 1032.6a5 5 0 1 0 10 0a5 5 0 1 0-10 0zM1070.2 1049.4a5 5 0 1 0 10 0a5 5 0 1 0-10 0zM1083.5 1060.7a5 5 0 1 0 10 0a5 5 0 1 0-10 0zM1097.1 1060.7a5 5 0 1 0 10 0a5 5 0 1 0-10 0zM1110.9 1057.2a5 5 0 1 0 10 0a5 5 0 1 0-10 0zM1124.8 1048.1a5 5 0 1 0 10 0a5 5 0 1 0-10 0zM1139 1046a5 5 0 1 0 10 0a5 5 0 1 0-10 0zM1153.5 1050.5a5 5 0 1 0 10 0a5 5 0 1 0-10 0zM1168.1 1079.4a5 5 0 1 0 10 0a5 5 0 1 0-10 0zM1183 1066.8a5 5 0 1 0 10 0a5 5 0 1 0-10 0zM1198.1 1072.2a5 5 0 1 0 10 0a5 5 0 1 0-10 0zM1213.4 1061.5a5 5 0 1 0 10 0a5 5 0 1 0-10 0zM1228.9 1075.4a5 5 0 1 0 10 0a5 5 0 1 0-10 0zM1244.8 1077.3a5 5 0 1 0 10 0a5 5 0 1 0-10 0zM1260.8 1082.1a5 5 0 1 0 10 0a5 5 0 1 0-10 0zM1277.1 1077.5a5 5 0 1 0 10 0a5 5 0 1 0-10 0zM1293.7 1094.1a5 5 0 1 0 10 0a5 5 0 1 0-10 0zM1310.5 1091.4a5 5 0 1 0 10 0a5 5 0 1 0-10 0zM1327.5 1096a5 5 0 1 0 10 0a5 5 0 1 0-10 0zM1344.9 1115.4a5 5 0 1 0 10 0a5 5 0 1 0-10 0zM1362.5 1107.4a5 5 0 1 0 10 0a5 5 0 1 0-10 0zM1380.3 1100.7a5 5 0 1 0 10 0a5 5 0 1 0-10 0zM1398.5 1125.6a5 5 0 1 0 10 0a5 5 0 1 0-10 0zM1416.9 1105.5a5 5 0 1 0 10 0a5 5 0 1 0-10 0zM1435.6 1097.2a5 5 0 1 0 10 0a5 5 0 1 0-10 0zM1454.6 1117.3a5 5 0 1 0 10 0a5 5 0 1 0-10 0zM1473.9 1105.5a5 5 0 1 0 10 0a5 5 0 1 0-10 0zM1493.5 1119.9a5 5 0 1 0 10 0a5 5 0 1 0-10 0zM1513.4 1135.5a5 5 0 1 0 10 0a5 5 0 1 0-10 0zM1533.6 1122.1a5 5 0 1 0 10 0a5 5 0 1 0-10 0zM1554.1 1122.1a5 5 0 1 0 10 0a5 5 0 1 0-10 0zM1575 1122.6a5 5 0 1 0 10 0a5 5 0 1 0-10 0zM1596.1 1127.4a5 5 0 1 0 10 0a5 5 0 1 0-10 0zM1617.6 1138.9a5 5 0 1 0 10 0a5 5 0 1 0-10 0zM1639.5 1138.9a5 5 0 1 0 10 0a5 5 0 1 0-10 0zM1661.6 1135.5a5 5 0 1 0 10 0a5 5 0 1 0-10 0zM1684.1 1175.1a5 5 0 1 0 10 0a5 5 0 1 0-10 0zM1707 1152.8a5 5 0 1 0 10 0a5 5 0 1 0-10 0zM1730.2 1142.9a5 5 0 1 0 10 0a5 5 0 1 0-10 0zM1753.7 1149.4a5 5 0 1 0 10 0a5 5 0 1 0-10 0zM1777.6 1146.7a5 5 0 1 0 10 0a5 5 0 1 0-10 0zM1801.9 1146.7a5 5 0 1 0 10 0a5 5 0 1 0-10 0z"/>
<path fill="#0000ff" d="M210.9 1274.2l6.5 11.5h-13zM211.3 1269l6.5 11.5h-13zM211.7 1272.5l6.5 11.5h-13zM211.8 886.5l6.5 11.5h-13zM211.8 716.8l6.5 11.5h-13zM211.8 1237.8l6.5 11.5h-13zM211.9 1172.6l6.5 11.5h-13zM211.9 1158l6.5 11.5h-13zM212 1120.8l6.5 11.5h-13zM212 982.7l6.5 11.5h-13zM212 1089.1l6.5 11.5h-13zM212 1195.8l6.5 11.5h-13zM212 877.4l6.5 11.5h-13zM212.1 1269.5l6.5 11.5h-13zM212.1 1264l6.5 11.5h-13zM212.1 1144l6.5 11.5h-13zM212.1 1129.2l6.5 11.5h-13zM212.1 1218.1l6.5 11.5h-13zM212.2 937.5l6.5 11.5h-13zM212.2 693.4l6.5 11.5h-13zM212.2 578.8l6.5 11.5h-13zM212.2 1245.9l6.5 11.5h-13zM212.2 1068.1l6.5 11.5h-13zM212.3 645.7l6.5 11.5h-13zM212.3 809.1l6.5 11.5h-13zM212.3 596.8l6.5 11.5h-13zM212.4 586.8l6.5 11.5h-13zM212.4 1006.2l6.5 11.5h-13zM212.4 757.3l6.5 11.5h-13zM212.4 1041.7l6.5 11.5h-13zM212.4 1086.1l6.5 11.5h-13zM212.4 968.2l6.5 11.5h-13zM212.4 655.8l6.5 11.5h-13zM212.5 1271.2l6.5 11.5h-13zM212.5 796.2l6.5 11.5h-13zM212.5 862l6.5 11.5h-13zM212.5 1022.7l6.5 11.5h-13zM212.5 833.3l6.5 11.5h-13zM212.5 841.8l6.5 11.5h-13zM212.6 770.7l6.5 11.5h-13zM212.6 709.7l6.5 11.5h-13zM212.6 629.7l6.5 11.5h-13zM212.6 554.1l6.5 11.5h-13zM212.7 734.2l6.5 11.5h-13zM212.7 913.9l6.5 11.5h-13zM212.7 495.9l6.5 11.5h-13zM212.8 665.3l6.5 11.5h-13zM212.8 918.4l6.5 11.5h-13zM212.8 995l6.5 11.5h-13zM212.8 537.3l6.5 11.5h-13zM212.8 1274.7l6.5 11.5h-13zM212.8 476.1l6.5 11.5h-13zM212.9 458.7l6.5 11.5h-13zM213 521.6l6.5 11.5h-13zM213.1 400l6.5 11.5h-13zM213.1 479.1l6.5 11.5h-13zM213.1 437.5l6.5 11.5h-13zM213.2 381.3l6.5 11.5h-13zM213.3 367l6.5 11.5h-13zM213.4 413.3l6.5 11.5h-13zM213.4 329l6.5 11.5h-13zM213.4 356.2l6.5 11.5h-13zM213.8 297.2l6.5 11.5h-13zM213.9 325.7l6.5 11.5h-13zM214 267.2l6.5 11.5h-13zM214.1 288.8l6.5 11.5h-13zM214.7 241.8l6.5 11.5h-13zM214.8 232.2l6.5 11.5h-13zM215 220.7l6.5 11.5h-13zM215.5 208.8l6.5 11.5h-13zM216 197.5l6.5 11.5h-13zM216.5 197.5l6.5 11.5h-13zM216.9 207.6l6.5 11.5h-13zM217.5 197.5l6.5 11.5h-13zM218 197.5l6.5 11.5h-13zM218.5 197.5l6.5 11.5h-13zM219.1 197.5l6.5 11.5h-13zM219.6 197.5l6.5 11.5h-13zM220.2 200.6l6.5 11.5h-13zM220.7 210.3l6.5 11.5h-13zM221.2 202.6l6.5 11.5h-13zM221.8 197.5l6.5 11.5h-13zM222.4 198.7l6.5 11.5h-13zM222.9 203.6l6.5 11.5h-13zM223.4 207.5l6.5 11.5h-13zM223.9 200.2l6.5 11.5h-13zM224.5 197.5l6.5 11.5h-13zM225.1 210.7l6.5 11.5h-13zM225.7 216.2l6.5 11.5h-13zM226.3 208.9l6.5 11.5h-13zM227 219.3l6.5 11.5h-13zM227.7 211.7l6.5 11.5h-13zM228.1 218.1l6.5 11.5h-13zM228.6 212.8l6.5 11.5h-13zM229.2 229.4l6.5 11.5h-13zM229.7 234.5l6.5 11.5h-13zM230.2 231.6l6.5 11.5h-13zM230.8 225.5l6.5 11.5h-13zM231.4 236.7l6.5 11.5h-13zM232 233.4l6.5 11.5h-13zM232.6 230.4l6.5 11.5h-13zM233.2 231.1l6.5 11.5h-13zM233.9 242.5l6.5 11.5h-13zM234.5 253.1l6.5 11.5h-13zM235.2 245.4l6.5 11.5h-13zM236 244.9l6.5 11.5h-13zM236.7 251.6l6.5 11.5h-13zM237.5 261.7l6.5 11.5h-13zM238.3 265.9l6.5 11.5h-13zM239.1 260.6l6.5 11.5h-13zM239.9 266l6.5 11.5h-13zM240.8 268.8l6.5 11.5h-13zM241.7 265.4l6.5 11.5h-13zM242.6 271.5l6.5 11.5h-13zM243.5 278.4l6.5 11.5h-13zM244 267.9l6.5 11.5h-13zM244.5 279.5l6.5 11.5h-13zM245 279.7l6.5 11.5h-13zM245.5 283.5l6.5 11.5h-13zM246 267.2l6.5 11.5h-13zM246.5 273l6.5 11.5h-13zM247.1 282.6l6.5 11.5h-13zM247.6 289.1l6.5 11.5h-13zM248.2 283.2l6.5 11.5h-13zM248.7 292.2l6.5 11.5h-13zM249.3 290.2l6.5 11.5h-13zM249.9 297l6.5 11.5h-13zM250.4 295.2l6.5 11.5h-13zM251 298.9l6.5 11.5h-13zM251.6 310.6l6.5 11.5h-13zM252.2 309.3l6.5 11.5h-13zM252.9 301.1l6.5 11.5h-13zM253.5 293.5l6.5 11.5h-13zM254.1 314.6l6.5 11.5h-13zM254.8 307.7l6.5 11.5h-13zM255.4 312.1l6.5 11.5h-13zM256.1 314.6l6.5 11.5h-13zM256.8 324.6l6.5 11.5h-13zM257.5 314.6l6.5 11.5h-13zM258.2 315.9l6.5 11.5h-13zM258.9 317.5l6.5 11.5h-13zM259.6 314.8l6.5 11.5h-13zM260.3 324.6l6.5 11.5h-13zM261.1 323.8l6.5 11.5h-13zM261.9 329.3l6.5 11.5h-13zM262.6 330.5l6.5 11.5h-13zM263.4 335.6l6.5 11.5h-13zM264.2 334l6.5 11.5h-13zM265 352.2l6.5 11.5h-13zM265.8 348l6.5 11.5h-13zM266.6 343.3l6.5 11.5h-13zM267.5 356.6l6.5 11.5h-13zM268.3 357.9l6.5 11.5h-13zM269.2 359.6l6.5 11.5h-13zM270.1 366.7l6.5 11.5h-13zM271 359.4l6.5 11.5h-13zM271.9 349.5l6.5 11.5h-13zM272.8 360l6.5 11.5h-13zM273.8 363.5l6.5 11.5h-13zM274.7 373.6l6.5 11.5h-13zM275.7 382.1l6.5 11.5h-13zM276.7 378.1l6.5 11.5h-13zM277.7 388.9l6.5 11.5h-13zM278.7 386l6.5 11.5h-13zM279.7 378.6l6.5 11.5h-13zM280.7 388.6l6.5 11.5h-13zM281.8 388.7l6.5 11.5h-13zM282.9 385.2l6.5 11.5h-13zM284 401.8l6.5 11.5h-13zM285.1 385.4l6.5 11.5h-13zM286.2 391.9l6.5 11.5h-13zM287.4 395.3l6.5 11.5h-13zM288.5 406.4l6.5 11.5h-13zM289.7 411.3l6.5 11.5h-13zM290.9 419.5l6.5 11.5h-13zM292.1 401.5l6.5 11.5h-13zM293.3 416.1l6.5 11.5h-13zM294.6 416.1l6.5 11.5h-13zM295.9 422.4l6.5 11.5h-13zM297.2 410.6l6.5 11.5h-13zM298.5 422l6.5 11.5h-13zM299.8 424.2l6.5 11.5h-13zM301.2 423l6.5 11.5h-13zM302.6 434l6.5 11.5h-13zM304 443l6.5 11.5h-13zM305.4 434l6.5 11.5h-13zM306.8 438l6.5 11.5h-13zM308.3 447.1l6.5 11.5h-13zM309.8 449.2l6.5 11.5h-13zM311.3 441.7l6.5 11.5h-13zM312.8 459.7l6.5 11.5h-13zM314.4 469.3l6.5 11.5h-13zM315.9 466.6l6.5 11.5h-13zM317.5 472l6.5 11.5h-13zM319.2 472.4l6.5 11.5h-13zM320.8 478.3l6.5 11.5h-13zM322.5 480.6l6.5 11.5h-13zM324.2 483.2l6.5 11.5h-13zM325.9 477.5l6.5 11.5h-13zM327.7 494.5l6.5 11.5h-13zM329.5 489.3l6.5 11.5h-13zM331.3 487.6l6.5 11.5h-13zM333.2 488.2l6.5 11.5h-13zM335 492.7l6.5 11.5h-13zM336.9 509.7l6.5 11.5h-13zM338.9 525.8l6.5 11.5h-13zM340.8 523.2l6.5 11.5h-13zM342.8 525.9l6.5 11.5h-13zM344.8 526.6l6.5 11.5h-13zM346.9 531.7l6.5 11.5h-13zM349 533.7l6.5 11.5h-13zM351.1 535l6.5 11.5h-13zM353.2 549.8l6.5 11.5h-13zM355.4 542l6.5 11.5h-13zM357.6 557.7l6.5 11.5h-13zM359.9 549.8l6.5 11.5h-13zM362.2 556.7l6.5 11.5h-13zM364.5 565.3l6.5 11.5h-13zM366.8 567.4l6.5 11.5h-13zM369.2 575.6l6.5 11.5h-13zM371.7 566.4l6.5 11.5h-13zM374.1 557.5l6.5 11.5h-13zM376.6 565.2l6.5 11.5h-13zM379.2 575.3l6.5 11.5h-13zM381.7 574.7l6.5 11.5h-13zM384.4 598.2l6.5 11.5h-13zM387 594.1l6.5 11.5h-13zM389.7 598.8l6.5 11.5h-13zM392.5 600.9l6.5 11.5h-13zM395.3 606.8l6.5 11.5h-13zM398.1 603.9l6.5 11.5h-13zM401 620.9l6.5 11.5h-13zM403.9 615.4l6.5 11.5h-13zM406.9 611l6.5 11.5h-13zM409.9 616.1l6.5 11.5h-13zM412.9 624l6.5 11.5h-13zM416 623.5l6.5 11.5h-13zM419.2 642.4l6.5 11.5h-13zM422.4 630.6l6.5 11.5h-13zM425.7 633.4l6.5 11.5h-13zM429 629.3l6.5 11.5h-13zM432.3 634.1l6.5 11.5h-13zM435.7 653.9l6.5 11.5h-13zM439.2 651.5l6.5 11.5h-13zM442.7 656.5l6.5 11.5h-13zM446.2 656.7l6.5 11.5h-13zM449.9 671.4l6.5 11.5h-13zM453.5 673l6.5 11.5h-13zM457.3 661.6l6.5 11.5h-13zM461.1 670.1l6.5 11.5h-13zM464.9 678.1l6.5 11.5h-13zM468.8 672.6l6.5 11.5h-13zM472.8 670.3l6.5 11.5h-13zM476.8 688.3l6.5 11.5h-13zM480.9 697.5l6.5 11.5h-13zM485.1 703.6l6.5 11.5h-13zM489.3 690.6l6.5 11.5h-13zM493.6 699.2l6.5 11.5h-13zM497.9 704.2l6.5 11.5h-13zM502.4 710l6.5 11.5h-13zM506.9 707.5l6.5 11.5h-13zM511.4 703.2l6.5 11.5h-13zM516 721.4l6.5 11.5h-13zM520.7 721.5l6.5 11.5h-13zM525.5 727.7l6.5 11.5h-13zM530.4 721.9l6.5 11.5h-13zM535.3 730.5l6.5 11.5h-13zM540.3 728.2l6.5 11.5h-13zM545.4 735.3l6.5 11.5h-13zM550.5 743.6l6.5 11.5h-13zM555.7 752.7l6.5 11.5h-13zM561.1 748.9l6.5 11.5h-13zM566.5 768.9l6.5 11.5h-13zM571.9 775.5l6.5 11.5h-13zM577.5 772.3l6.5 11.5h-13zM583.1 765.6l6.5 11.5h-13zM588.9 771l6.5 11.5h-13zM594.7 781.7l6.5 11.5h-13zM600.6 785.8l6.5 11.5h-13zM606.6 784.4l6.5 11.5h-13zM612.7 780.4l6.5 11.5h-13zM618.9 787.3l6.5 11.5h-13zM625.2 786.3l6.5 11.5h-13zM631.6 791l6.5 11.5h-13zM638.1 792.2l6.5 11.5h-13zM644.7 805.8l6.5 11.5h-13zM651.4 810.2l6.5 11.5h-13zM658.2 818.3l6.5 11.5h-13zM665.1 809.1l6.5 11.5h-13zM672.1 823.1l6.5 11.5h-13zM679.2 827.9l6.5 11.5h-13zM686.4 820.9l6.5 11.5h-13zM693.8 830.5l6.5 11.5h-13zM701.2 834.9l6.5 11.5h-13zM708.8 843.8l6.5 11.5h-13zM716.5 850l6.5 11.5h-13zM724.3 851.9l6.5 11.5h-13zM732.2 860.3l6.5 11.5h-13zM740.2 861.5l6.5 11.5h-13zM748.4 857.8l6.5 11.5h-13zM756.7 853.7l6.5 11.5h-13zM765.1 870.6l6.5 11.5h-13zM773.7 873.3l6.5 11.5h-13zM782.4 863.3l6.5 11.5h-13zM791.2 877l6.5 11.5h-13zM800.1 871.1l6.5 11.5h-13zM809.2 874.8l6.5 11.5h-13zM818.5 889.8l6.5 11.5h-13zM827.8 886.6l6.5 11.5h-13zM837.4 895.7l6.5 11.5h-13zM847 895.7l6.5 11.5h-13zM856.9 897.9l6.5 11.5h-13zM866.8 901.7l6.5 11.5h-13zM877 904.9l6.5 11.5h-13zM887.2 916.9l6.5 11.5h-13zM897.7 911l6.5 11.5h-13zM908.3 926.3l6.5 11.5h-13zM919.1 934.6l6.5 11.5h-13zM930 919.6l6.5 11.5h-13zM941.1 929.2l6.5 11.5h-13zM952.4 921.7l6.5 11.5h-13zM963.8 938.6l6.5 11.5h-13zM975.5 937.8l6.5 11.5h-13zM987.3 946.3l6.5 11.5h-13zM999.3 933.8l6.5 11.5h-13zM1011.4 946.3l6.5 11.5h-13zM1023.8 949.8l6.5 11.5h-13zM1036.3 945l6.5 11.5h-13zM1049.1 961.9l6.5 11.5h-13zM1062 961.3l6.5 11.5h-13zM1075.2 962.7l6.5 11.5h-13zM1088.5 962.7l6.5 11.5h-13zM1102.1 974.7l6.5 11.5h-13zM1115.9 969.9l6.5 11.5h-13zM1129.8 978.4l6.5 11.5h-13zM1144 978.4l6.5 11.5h-13zM1158.5 992.6l6.5 11.5h-13zM1173.1 987.3l6.5 11.5h-13zM1188 1001.5l6.5 11.5h-13zM1203.1 998.8l6.5 11.5h-13zM1218.4 990.5l6.5 11.5h-13zM1233.9 998.5l6.5 11.5h-13zM1249.8 1006l6.5 11.5h-13zM1265.8 1008.1l6.5 11.5h-13zM1282.1 1006l6.5 11.5h-13zM1298.7 1004.7l6.5 11.5h-13zM1315.5 1023.4l6.5 11.5h-13zM1332.5 1015.9l6.5 11.5h-13zM1349.9 1015.2l6.5 11.5h-13zM1367.5 1023.3l6.5 11.5h-13zM1385.3 1031.3l6.5 11.5h-13zM1403.5 1018.7l6.5 11.5h-13zM1421.9 1037.2l6.5 11.5h-13zM1440.6 1023.3l6.5 11.5h-13zM1459.6 1028.6l6.5 11.5h-13zM1478.9 1042.8l6.5 11.5h-13zM1498.5 1055.4l6.5 11.5h-13zM1518.4 1054l6.5 11.5h-13zM1538.6 1052.7l6.5 11.5h-13zM1559.1 1067.9l6.5 11.5h-13zM1580 1059.4l6.5 11.5h-13zM1601.1 1057.2l6.5 11.5h-13zM1622.6 1066.1l6.5 11.5h-13zM1644.5 1058l6.5 11.5h-13zM1666.6 1067.9l6.5 11.5h-13zM1689.1 1062.9l6.5 11.5h-13zM1712 1067.9l6.5 11.5h-13zM1735.2 1084.8l6.5 11.5h-13zM1758.7 1088.3l6.5 11.5h-13zM1782.6 1077.3l6.5 11.5h-13zM1806.9 1082.9l6.5 11.5h-13z"/>
<path fill="#008080" d="M210.9 1287.9l-6.5-11.5h13zM211.3 1289.1l-6.5-11.5h13zM211.7 1286.2l-6.5-11.5h13zM211.7 1131.1l-6.5-11.5h13zM211.8 1091l-6.5-11.5h13zM211.8 1110.2l-6.5-11.5h13zM211.8 655.4l-6.5-11.5h13zM211.8 1275.2l-6.5-11.5h13zM211.9 1259l-6.5-11.5h13zM211.9 846.6l-6.5-11.5h13zM211.9 1050.5l-6.5-11.5h13zM212 736.6l-6.5-11.5h13zM212.1 1287.8l-6.5-11.5h13zM212.1 822.9l-6.5-11.5h13zM212.1 906.3l-6.5-11.5h13zM212.2 1251.7l-6.5-11.5h13zM212.2 1135.1l-6.5-11.5h13zM212.2 1199.6l-6.5-11.5h13zM212.2 1231.5l-6.5-11.5h13zM212.2 964.6l-6.5-11.5h13zM212.2 965.3l-6.5-11.5h13zM212.3 934.9l-6.5-11.5h13zM212.3 888.4l-6.5-11.5h13zM212.3 707l-6.5-11.5h13zM212.3 552.8l-6.5-11.5h13zM212.3 928.1l-6.5-11.5h13zM212.3 1026.7l-6.5-11.5h13zM212.4 629.3l-6.5-11.5h13zM212.4 1175.8l-6.5-11.5h13zM212.4 771.8l-6.5-11.5h13zM212.4 834.8l-6.5-11.5h13zM212.4 1203.4l-6.5-11.5h13zM212.4 800.5l-6.5-11.5h13zM212.5 1289.1l-6.5-11.5h13zM212.5 471.9l-6.5-11.5h13zM212.5 1167l-6.5-11.5h13zM212.5 986.7l-6.5-11.5h13zM212.5 1037l-6.5-11.5h13zM212.6 669.8l-6.5-11.5h13zM212.6 1071.1l-6.5-11.5h13zM212.6 787.8l-6.5-11.5h13zM212.6 755.7l-6.5-11.5h13zM212.6 612.2l-6.5-11.5h13zM212.6 691.7l-6.5-11.5h13zM212.7 1014.4l-6.5-11.5h13zM212.7 582.2l-6.5-11.5h13zM212.7 560.5l-6.5-11.5h13zM212.7 723.3l-6.5-11.5h13zM212.7 869.9l-6.5-11.5h13zM212.8 497.1l-6.5-11.5h13zM212.8 475l-6.5-11.5h13zM212.8 1289l-6.5-11.5h13zM213 603.8l-6.5-11.5h13zM213.1 532.6l-6.5-11.5h13zM213.1 367.3l-6.5-11.5h13zM213.2 517.5l-6.5-11.5h13zM213.2 441l-6.5-11.5h13zM213.3 334.5l-6.5-11.5h13zM213.3 410.1l-6.5-11.5h13zM213.5 375l-6.5-11.5h13zM213.6 395.9l-6.5-11.5h13zM213.8 429.2l-6.5-11.5h13zM213.8 313.4l-6.5-11.5h13zM213.9 343.9l-6.5-11.5h13zM214.1 293.6l-6.5-11.5h13zM214.4 284.8l-6.5-11.5h13zM214.5 270.2l-6.5-11.5h13zM214.9 241l-6.5-11.5h13zM215 232.4l-6.5-11.5h13zM215.5 222l-6.5-11.5h13zM216 212.8l-6.5-11.5h13zM216.5 210.5l-6.5-11.5h13zM216.9 211l-6.5-11.5h13zM217.5 211.8l-6.5-11.5h13zM218 216l-6.5-11.5h13zM218.5 219.2l-6.5-11.5h13zM219.1 223.3l-6.5-11.5h13zM219.6 227.3l-6.5-11.5h13zM220.2 233.7l-6.5-11.5h13zM220.7 240.5l-6.5-11.5h13zM221.2 247.7l-6.5-11.5h13zM221.8 254.6l-6.5-11.5h13zM222.4 258.4l-6.5-11.5h13zM222.9 262l-6.5-11.5h13zM223.4 264.6l-6.5-11.5h13zM223.9 270l-6.5-11.5h13zM224.5 270.8l-6.5-11.5h13zM225.1 275.7l-6.5-11.5h13zM225.7 279.3l-6.5-11.5h13zM226.3 280.9l-6.5-11.5h13zM227 284.9l-6.5-11.5h13zM227.7 288.8l-6.5-11.5h13zM228.1 291.8l-6.5-11.5h13zM228.6 296.2l-6.5-11.5h13zM229.2 296.9l-6.5-11.5h13zM229.7 299.6l-6.5-11.5h13zM230.2 302.6l-6.5-11.5h13zM230.8 306l-6.5-11.5h13zM231.4 308.7l-6.5-11.5h13zM232 310.1l-6.5-11.5h13zM232.6 314.3l-6.5-11.5h13zM233.2 314.5l-6.5-11.5h13zM233.9 316.9l-6.5-11.5h13zM234.5 319.9l-6.5-11.5h13zM235.2 324.1l-6.5-11.5h13zM236 326.7l-6.5-11.5h13zM236.7 329.4l-6.5-11.5h13zM237.5 334l-6.5-11.5h13zM238.3 339.5l-6.5-11.5h13zM239.1 339.1l-6.5-11.5h13zM239.9 347.2l-6.5-11.5h13zM240.8 352.6l-6.5-11.5h13zM241.7 355.1l-6.5-11.5h13zM242.6 360l-6.5-11.5h13zM243.5 363.2l-6.5-11.5h13zM244 366.3l-6.5-11.5h13zM244.5 369.5l-6.5-11.5h13zM245 372.9l-6.5-11.5h13zM245.5 373.7l-6.5-11.5h13zM246 375.5l-6.5-11.5h13zM246.5 380.2l-6.5-11.5h13zM247.1 383.9l-6.5-11.5h13zM247.6 385.1l-6.5-11.5h13zM248.2 386.7l-6.5-11.5h13zM248.7 386.7l-6.5-11.5h13zM249.3 390l-6.5-11.5h13zM249.9 393.4l-6.5-11.5h13zM250.4 395.9l-6.5-11.5h13zM251 399.2l-6.5-11.5h13zM251.6 397.8l-6.5-11.5h13zM252.2 402.5l-6.5-11.5h13zM252.9 405.5l-6.5-11.5h13zM253.5 409.3l-6.5-11.5h13zM254.1 410.5l-6.5-11.5h13zM254.8 414.6l-6.5-11.5h13zM255.4 416.4l-6.5-11.5h13zM256.1 417l-6.5-11.5h13zM256.8 420l-6.5-11.5h13zM257.5 422.9l-6.5-11.5h13zM258.2 423.7l-6.5-11.5h13zM258.9 425.8l-6.5-11.5h13zM259.6 429.9l-6.5-11.5h13zM260.3 434.6l-6.5-11.5h13zM261.1 437.1l-6.5-11.5h13zM261.9 438.1l-6.5-11.5h13zM262.6 445.3l-6.5-11.5h13zM263.4 449.5l-6.5-11.5h13zM264.2 449.5l-6.5-11.5h13zM265 452l-6.5-11.5h13zM265.8 457.3l-6.5-11.5h13zM266.6 463.6l-6.5-11.5h13zM267.5 465.7l-6.5-11.5h13zM268.3 470.6l-6.5-11.5h13zM269.2 472.4l-6.5-11.5h13zM270.1 472.7l-6.5-11.5h13zM271 479l-6.5-11.5h13zM271.9 481.4l-6.5-11.5h13zM272.8 486.2l-6.5-11.5h13zM273.8 489.5l-6.5-11.5h13zM274.7 493.3l-6.5-11.5h13zM275.7 495.2l-6.5-11.5h13zM276.7 496.5l-6.5-11.5h13zM277.7 503.6l-6.5-11.5h13zM278.7 504.1l-6.5-11.5h13zM279.7 508.8l-6.5-11.5h13zM280.7 511.8l-6.5-11.5h13zM281.8 514.5l-6.5-11.5h13zM282.9 517.1l-6.5-11.5h13zM284 519.9l-6.5-11.5h13zM285.1 523.1l-6.5-11.5h13zM286.2 525.1l-6.5-11.5h13zM287.4 530.4l-6.5-11.5h13zM288.5 534.9l-6.5-11.5h13zM289.7 536.7l-6.5-11.5h13zM290.9 541.6l-6.5-11.5h13zM292.1 543.4l-6.5-11.5h13zM293.3 546.2l-6.5-11.5h13zM294.6 547.3l-6.5-11.5h13zM295.9 552.6l-6.5-11.5h13zM297.2 555.4l-6.5-11.5h13zM298.5 559.1l-6.5-11.5h13zM299.8 561.7l-6.5-11.5h13zM301.2 564l-6.5-11.5h13zM302.6 566l-6.5-11.5h13zM304 567.7l-6.5-11.5h13zM305.4 574l-6.5-11.5h13zM306.8 580.6l-6.5-11.5h13zM308.3 578l-6.5-11.5h13zM309.8 581.3l-6.5-11.5h13zM311.3 589.4l-6.5-11.5h13zM312.8 591.1l-6.5-11.5h13zM314.4 593.8l-6.5-11.5h13zM315.9 600.2l-6.5-11.5h13zM317.5 604.4l-6.5-11.5h13zM319.2 605.7l-6.5-11.5h13zM320.8 609.4l-6.5-11.5h13zM322.5 614.8l-6.5-11.5h13zM324.2 617.4l-6.5-11.5h13zM325.9 624.1l-6.5-11.5h13zM327.7 622.2l-6.5-11.5h13zM329.5 628.2l-6.5-11.5h13zM331.3 631.1l-6.5-11.5h13zM333.2 634.9l-6.5-11.5h13zM335 639.3l-6.5-11.5h13zM336.9 643.3l-6.5-11.5h13zM338.9 648.8l-6.5-11.5h13zM340.8 653.3l-6.5-11.5h13zM342.8 650.4l-6.5-11.5h13zM344.8 660l-6.5-11.5h13zM346.9 660.7l-6.5-11.5h13zM349 665.7l-6.5-11.5h13zM351.1 668.2l-6.5-11.5h13zM353.2 667l-6.5-11.5h13zM355.4 670.8l-6.5-11.5h13zM357.6 678.3l-6.5-11.5h13zM359.9 676.4l-6.5-11.5h13zM362.2 678.4l-6.5-11.5h13zM364.5 685.2l-6.5-11.5h13zM366.8 691.8l-6.5-11.5h13zM369.2 693.3l-6.5-11.5h13zM371.7 703.1l-6.5-11.5h13zM374.1 705.7l-6.5-11.5h13zM376.6 711.8l-6.5-11.5h13zM379.2 715.2l-6.5-11.5h13zM381.7 717.5l-6.5-11.5h13zM384.4 718.7l-6.5-11.5h13zM387 723.3l-6.5-11.5h13zM389.7 731.8l-6.5-11.5h13zM392.5 736.4l-6.5-11.5h13zM395.3 736.1l-6.5-11.5h13zM398.1 743.6l-6.5-11.5h13zM401 749.3l-6.5-11.5h13zM403.9 753.5l-6.5-11.5h13zM406.9 751.1l-6.5-11.5h13zM409.9 752.8l-6.5-11.5h13zM412.9 760.6l-6.5-11.5h13zM416 768.1l-6.5-11.5h13zM419.2 768.9l-6.5-11.5h13zM422.4 773.9l-6.5-11.5h13zM425.7 776.9l-6.5-11.5h13zM429 777.9l-6.5-11.5h13zM432.3 785.2l-6.5-11.5h13zM435.7 792.2l-6.5-11.5h13zM439.2 786.3l-6.5-11.5h13zM442.7 793.5l-6.5-11.5h13zM446.2 794.6l-6.5-11.5h13zM449.9 800.4l-6.5-11.5h13zM453.5 801.8l-6.5-11.5h13zM457.3 809.6l-6.5-11.5h13zM461.1 810.2l-6.5-11.5h13zM464.9 813.1l-6.5-11.5h13zM468.8 812.5l-6.5-11.5h13zM472.8 819.7l-6.5-11.5h13zM476.8 825.9l-6.5-11.5h13zM480.9 830.4l-6.5-11.5h13zM485.1 832.4l-6.5-11.5h13zM489.3 840.6l-6.5-11.5h13zM493.6 838.1l-6.5-11.5h13zM497.9 845.8l-6.5-11.5h13zM502.4 841.5l-6.5-11.5h13zM506.9 853.4l-6.5-11.5h13zM511.4 860.9l-6.5-11.5h13zM516 864.3l-6.5-11.5h13zM520.7 871.7l-6.5-11.5h13zM525.5 875.3l-6.5-11.5h13zM530.4 872.7l-6.5-11.5h13zM535.3 876.1l-6.5-11.5h13zM540.3 879.6l-6.5-11.5h13zM545.4 881.1l-6.5-11.5h13zM550.5 879.8l-6.5-11.5h13zM555.7 890.7l-6.5-11.5h13zM561.1 892.2l-6.5-11.5h13zM566.5 903.3l-6.5-11.5h13zM571.9 903.4l-6.5-11.5h13zM577.5 905.1l-6.5-11.5h13zM583.1 907.7l-6.5-11.5h13zM588.9 909.1l-6.5-11.5h13zM594.7 915l-6.5-11.5h13zM600.6 919.9l-6.5-11.5h13zM606.6 923.6l-6.5-11.5h13zM612.7 926.6l-6.5-11.5h13zM618.9 931.1l-6.5-11.5h13zM625.2 934.8l-6.5-11.5h13zM631.6 939.2l-6.5-11.5h13zM638.1 942.1l-6.5-11.5h13zM644.7 945.8l-6.5-11.5h13zM651.4 948.8l-6.5-11.5h13zM658.2 951.7l-6.5-11.5h13zM665.1 955.4l-6.5-11.5h13zM672.1 959.8l-6.5-11.5h13zM679.2 959.8l-6.5-11.5h13zM686.4 961.3l-6.5-11.5h13zM693.8 965.7l-6.5-11.5h13zM701.2 973.1l-6.5-11.5h13zM708.8 969.6l-6.5-11.5h13zM716.5 979l-6.5-11.5h13zM724.3 978.3l-6.5-11.5h13zM732.2 981.9l-6.5-11.5h13zM740.2 988.6l-6.5-11.5h13zM748.4 984.9l-6.5-11.5h13zM756.7 984.9l-6.5-11.5h13zM765.1 995.9l-6.5-11.5h13zM773.7 1001.8l-6.5-11.5h13zM782.4 999.6l-6.5-11.5h13zM791.2 997.4l-6.5-11.5h13zM800.1 1005.5l-6.5-11.5h13zM809.2 1013.6l-6.5-11.5h13zM818.5 1017.3l-6.5-11.5h13zM827.8 1013.6l-6.5-11.5h13zM837.4 1019.5l-6.5-11.5h13zM847 1025.4l-6.5-11.5h13zM856.9 1018.8l-6.5-11.5h13zM866.8 1025.7l-6.5-11.5h13zM877 1033.7l-6.5-11.5h13zM887.2 1031l-6.5-11.5h13zM897.7 1035.1l-6.5-11.5h13zM908.3 1043.1l-6.5-11.5h13zM919.1 1036.4l-6.5-11.5h13zM930 1043.1l-6.5-11.5h13zM941.1 1048.4l-6.5-11.5h13zM952.4 1053.3l-6.5-11.5h13zM963.8 1053.8l-6.5-11.5h13zM975.5 1053.8l-6.5-11.5h13zM987.3 1059.7l-6.5-11.5h13zM999.3 1056.5l-6.5-11.5h13zM1011.4 1061l-6.5-11.5h13zM1023.8 1067.7l-6.5-11.5h13zM1036.3 1068.5l-6.5-11.5h13zM1049.1 1067.7l-6.5-11.5h13zM1062 1066.6l-6.5-11.5h13zM1075.2 1077.9l-6.5-11.5h13zM1088.5 1077.3l-6.5-11.5h13zM1102.1 1087.2l-6.5-11.5h13zM1115.9 1088l-6.5-11.5h13zM1129.8 1088.6l-6.5-11.5h13zM1144 1094.5l-6.5-11.5h13zM1158.5 1084.6l-6.5-11.5h13zM1173.1 1085.9l-6.5-11.5h13zM1188 1097.1l-6.5-11.5h13zM1203.1 1102l-6.5-11.5h13zM1218.4 1097.9l-6.5-11.5h13zM1233.9 1104.1l-6.5-11.5h13zM1249.8 1105.2l-6.5-11.5h13zM1265.8 1106.5l-6.5-11.5h13zM1282.1 1110.8l-6.5-11.5h13zM1298.7 1110.5l-6.5-11.5h13zM1315.5 1119.3l-6.5-11.5h13zM1332.5 1114l-6.5-11.5h13zM1349.9 1120l-6.5-11.5h13zM1367.5 1120l-6.5-11.5h13zM1385.3 1123.8l-6.5-11.5h13zM1403.5 1123.8l-6.5-11.5h13zM1421.9 1120l-6.5-11.5h13zM1440.6 1129.1l-6.5-11.5h13zM1459.6 1136.6l-6.5-11.5h13zM1478.9 1129.1l-6.5-11.5h13zM1498.5 1136.6l-6.5-11.5h13zM1518.4 1136.6l-6.5-11.5h13zM1538.6 1141.4l-6.5-11.5h13zM1559.1 1143.8l-6.5-11.5h13zM1580 1144.6l-6.5-11.5h13zM1601.1 1140.6l-6.5-11.5h13zM1622.6 1152.7l-6.5-11.5h13zM1644.5 1150.5l-6.5-11.5h13zM1666.6 1149.4l-6.5-11.5h13zM1689.1 1154l-6.5-11.5h13zM1712 1152.1l-6.5-11.5h13zM1735.2 1156.7l-6.5-11.5h13zM1758.7 1162l-6.5-11.5h13zM1782.6 1162l-6.5-11.5h13zM1806.9 1162l-6.5-11.5h13z"/>
<path fill="#ff00ff" d="M204.4 1279.9l12-6.5v13zM204.8 1277.3l12-6.5v13zM204.9 1248.6l12-6.5v13zM205.2 1282.1l12-6.5v13zM205.3 1221.4l12-6.5v13zM205.3 1191.3l12-6.5v13zM205.3 1243.5l12-6.5v13zM205.3 1173.9l12-6.5v13zM205.4 1159.9l12-6.5v13zM205.4 1131.1l12-6.5v13zM205.5 1071.6l12-6.5v13zM205.5 965l12-6.5v13zM205.5 1002.6l12-6.5v13zM205.6 911.2l12-6.5v13zM205.6 824.1l12-6.5v13zM205.6 1276.5l12-6.5v13zM205.7 795.2l12-6.5v13zM205.7 1101.2l12-6.5v13zM205.7 1143.1l12-6.5v13zM205.7 852.7l12-6.5v13zM205.7 1059.9l12-6.5v13zM205.7 989.4l12-6.5v13zM205.7 894l12-6.5v13zM205.7 782.3l12-6.5v13zM205.8 1085.2l12-6.5v13zM205.8 1274l12-6.5v13zM205.8 1019.8l12-6.5v13zM205.8 549.3l12-6.5v13zM205.8 723.7l12-6.5v13zM205.8 470.1l12-6.5v13zM205.8 703.9l12-6.5v13zM205.8 742.5l12-6.5v13zM205.8 946.2l12-6.5v13zM205.9 836.8l12-6.5v13zM205.9 686.5l12-6.5v13zM206 1278l12-6.5v13zM206 931l12-6.5v13zM206.1 651.9l12-6.5v13zM206.1 875.1l12-6.5v13zM206.1 616.1l12-6.5v13zM206.1 1040.8l12-6.5v13zM206.2 538l12-6.5v13zM206.2 670.9l12-6.5v13zM206.2 588l12-6.5v13zM206.3 508.4l12-6.5v13zM206.3 488.7l12-6.5v13zM206.3 572.4l12-6.5v13zM206.3 1280.8l12-6.5v13zM206.4 436.4l12-6.5v13zM206.5 606.1l12-6.5v13zM206.5 765.2l12-6.5v13zM206.5 414.7l12-6.5v13zM206.6 411.1l12-6.5v13zM206.6 644l12-6.5v13zM206.6 463.7l12-6.5v13zM206.7 349.2l12-6.5v13zM206.7 390.2l12-6.5v13zM206.8 336.3l12-6.5v13zM207 370.8l12-6.5v13zM207.4 311.6l12-6.5v13zM207.5 297.1l12-6.5v13zM207.6 273.3l12-6.5v13zM207.8 257.5l12-6.5v13zM208 236.6l12-6.5v13zM208.5 227.5l12-6.5v13zM209 206.1l12-6.5v13zM209.5 208.2l12-6.5v13zM210 209.1l12-6.5v13zM210.4 208.3l12-6.5v13zM211 224.4l12-6.5v13zM211.5 230l12-6.5v13zM212 240.5l12-6.5v13zM212.6 258.5l12-6.5v13zM213.1 258l12-6.5v13zM213.7 272.4l12-6.5v13zM214.2 268.8l12-6.5v13zM214.7 283l12-6.5v13zM215.3 287.2l12-6.5v13zM215.9 294.9l12-6.5v13zM216.4 297.1l12-6.5v13zM216.9 293.4l12-6.5v13zM217.4 302.5l12-6.5v13zM218 311.6l12-6.5v13zM218.6 304.7l12-6.5v13zM219.2 314.8l12-6.5v13zM219.8 318.1l12-6.5v13zM220.5 321.7l12-6.5v13zM221.2 338.6l12-6.5v13zM221.6 329.1l12-6.5v13zM222.1 337.5l12-6.5v13zM222.7 352.8l12-6.5v13zM223.2 348.9l12-6.5v13zM223.7 352.6l12-6.5v13zM224.3 360.4l12-6.5v13zM224.9 366.2l12-6.5v13zM225.5 365.6l12-6.5v13zM226.1 367.3l12-6.5v13zM226.7 369.7l12-6.5v13zM227.4 386.3l12-6.5v13zM228 382l12-6.5v13zM228.7 385.7l12-6.5v13zM229.5 390l12-6.5v13zM230.2 394.9l12-6.5v13zM231 397.9l12-6.5v13zM231.8 400.8l12-6.5v13zM232.6 397.6l12-6.5v13zM233.4 403.8l12-6.5v13zM234.3 397.9l12-6.5v13zM235.2 402.2l12-6.5v13zM236.1 406.4l12-6.5v13zM237 404l12-6.5v13zM237.5 408.6l12-6.5v13zM238 420.5l12-6.5v13zM238.5 410.4l12-6.5v13zM239 416.4l12-6.5v13zM239.5 423l12-6.5v13zM240 418.2l12-6.5v13zM240.6 423.2l12-6.5v13zM241.1 422.7l12-6.5v13zM241.7 430.5l12-6.5v13zM242.2 430.1l12-6.5v13zM242.8 445.9l12-6.5v13zM243.4 446l12-6.5v13zM243.9 449.8l12-6.5v13zM244.5 449l12-6.5v13zM245.1 457.9l12-6.5v13zM245.7 462.5l12-6.5v13zM246.4 469.4l12-6.5v13zM247 473.3l12-6.5v13zM247.6 477l12-6.5v13zM248.3 478l12-6.5v13zM248.9 481l12-6.5v13zM249.6 480.7l12-6.5v13zM250.3 480.8l12-6.5v13zM251 487.9l12-6.5v13zM251.7 497.1l12-6.5v13zM252.4 499.9l12-6.5v13zM253.1 508.9l12-6.5v13zM253.8 511.1l12-6.5v13zM254.6 508.9l12-6.5v13zM255.4 512.2l12-6.5v13zM256.1 521.7l12-6.5v13zM256.9 526l12-6.5v13zM257.7 529.2l12-6.5v13zM258.5 535.8l12-6.5v13zM259.3 535l12-6.5v13zM260.1 536.2l12-6.5v13zM261 545.8l12-6.5v13zM261.8 540.5l12-6.5v13zM262.7 555.7l12-6.5v13zM263.6 561.9l12-6.5v13zM264.5 557l12-6.5v13zM265.4 563.7l12-6.5v13zM266.3 557.1l12-6.5v13zM267.3 567.2l12-6.5v13zM268.2 566.6l12-6.5v13zM269.2 574.4l12-6.5v13zM270.2 577.5l12-6.5v13zM271.2 586.7l12-6.5v13zM272.2 593.9l12-6.5v13zM273.2 590.4l12-6.5v13zM274.2 594.9l12-6.5v13zM275.3 597.7l12-6.5v13zM276.4 606.5l12-6.5v13zM277.5 599.1l12-6.5v13zM278.6 603.7l12-6.5v13zM279.7 624.8l12-6.5v13zM280.9 625.5l12-6.5v13zM282 621.1l12-6.5v13zM283.2 638.6l12-6.5v13zM284.4 630.8l12-6.5v13zM285.6 642.5l12-6.5v13zM286.8 641.6l12-6.5v13zM288.1 641.9l12-6.5v13zM289.4 651.3l12-6.5v13zM290.7 664.3l12-6.5v13zM292 669l12-6.5v13zM293.3 675.8l12-6.5v13zM294.7 671.7l12-6.5v13zM296.1 678l12-6.5v13zM297.5 688l12-6.5v13zM298.9 689.9l12-6.5v13zM300.3 700.3l12-6.5v13zM301.8 701l12-6.5v13zM303.3 710.6l12-6.5v13zM304.8 708.8l12-6.5v13zM306.3 712.5l12-6.5v13zM307.9 710.6l12-6.5v13zM309.4 715.4l12-6.5v13zM311 718.9l12-6.5v13zM312.7 720.5l12-6.5v13zM314.3 729.2l12-6.5v13zM316 728.6l12-6.5v13zM317.7 738.4l12-6.5v13zM319.4 736.1l12-6.5v13zM321.2 733.3l12-6.5v13zM323 739l12-6.5v13zM324.8 757l12-6.5v13zM326.7 762.4l12-6.5v13zM328.5 765.6l12-6.5v13zM330.4 765.1l12-6.5v13zM332.4 773l12-6.5v13zM334.3 765.4l12-6.5v13zM336.3 775.6l12-6.5v13zM338.3 785.7l12-6.5v13zM340.4 783.9l12-6.5v13zM342.5 790.3l12-6.5v13zM344.6 783.5l12-6.5v13zM346.7 793.4l12-6.5v13zM348.9 799.9l12-6.5v13zM351.1 795.2l12-6.5v13zM353.4 805.2l12-6.5v13zM355.7 803.4l12-6.5v13zM358 806.5l12-6.5v13zM360.3 820.9l12-6.5v13zM362.7 827l12-6.5v13zM365.2 835l12-6.5v13zM367.6 834l12-6.5v13zM370.1 846.5l12-6.5v13zM372.7 849.9l12-6.5v13zM375.2 845.4l12-6.5v13zM377.9 852.9l12-6.5v13zM380.5 849.4l12-6.5v13zM383.2 843.3l12-6.5v13zM386 845.5l12-6.5v13zM388.8 850.5l12-6.5v13zM391.6 866.2l12-6.5v13zM394.5 858.1l12-6.5v13zM397.4 866.8l12-6.5v13zM400.4 868.2l12-6.5v13zM403.4 890.5l12-6.5v13zM406.4 890.4l12-6.5v13zM409.5 887.7l12-6.5v13zM412.7 900.7l12-6.5v13zM415.9 898.1l12-6.5v13zM419.2 896.9l12-6.5v13zM422.5 899.4l12-6.5v13zM425.8 905.8l12-6.5v13zM429.2 920.4l12-6.5v13zM432.7 910.9l12-6.5v13zM436.2 931.3l12-6.5v13zM439.7 918.5l12-6.5v13zM443.4 926l12-6.5v13zM447 936.7l12-6.5v13zM450.8 948.7l12-6.5v13zM454.6 946.2l12-6.5v13zM458.4 944.1l12-6.5v13zM462.3 952.3l12-6.5v13zM466.3 963.5l12-6.5v13zM470.3 954.6l12-6.5v13zM474.4 957.6l12-6.5v13zM478.6 968.1l12-6.5v13zM482.8 965.1l12-6.5v13zM487.1 968.9l12-6.5v13zM491.4 981.3l12-6.5v13zM495.9 986.6l12-6.5v13zM500.4 979.7l12-6.5v13zM504.9 982.5l12-6.5v13zM509.5 995.7l12-6.5v13zM514.2 998.9l12-6.5v13zM519 997.2l12-6.5v13zM523.9 990l12-6.5v13zM528.8 1006.2l12-6.5v13zM533.8 1010.6l12-6.5v13zM538.9 1008.2l12-6.5v13zM544 1021l12-6.5v13zM549.2 1028l12-6.5v13zM554.6 1011.3l12-6.5v13zM560 1020.4l12-6.5v13zM565.4 1026.2l12-6.5v13zM571 1041l12-6.5v13zM576.6 1043.7l12-6.5v13zM582.4 1048.7l12-6.5v13zM588.2 1044.4l12-6.5v13zM594.1 1043.1l12-6.5v13zM600.1 1038l12-6.5v13zM606.2 1068.2l12-6.5v13zM612.4 1055.7l12-6.5v13zM618.7 1065.2l12-6.5v13zM625.1 1059.3l12-6.5v13zM631.6 1068.9l12-6.5v13zM638.2 1074.8l12-6.5v13zM644.9 1099.9l12-6.5v13zM651.7 1052l12-6.5v13zM658.6 1082.2l12-6.5v13zM665.6 1078.5l12-6.5v13zM672.7 1084.4l12-6.5v13zM679.9 1080l12-6.5v13zM687.3 1105l12-6.5v13zM694.7 1091.8l12-6.5v13zM702.3 1104.3l12-6.5v13zM710 1101.4l12-6.5v13zM717.8 1100.6l12-6.5v13zM725.7 1091l12-6.5v13zM733.7 1108l12-6.5v13zM741.9 1108l12-6.5v13zM750.2 1116.8l12-6.5v13zM758.6 1112.4l12-6.5v13zM767.2 1132.3l12-6.5v13zM775.9 1126.4l12-6.5v13zM784.7 1131.6l12-6.5v13zM793.6 1110.9l12-6.5v13zM802.7 1138.2l12-6.5v13zM812 1141.2l12-6.5v13zM821.3 1141.2l12-6.5v13zM830.9 1133.8l12-6.5v13zM840.5 1130.9l12-6.5v13zM850.4 1144.1l12-6.5v13zM860.3 1144.9l12-6.5v13zM870.5 1144.1l12-6.5v13zM880.7 1142.3l12-6.5v13zM891.2 1157.5l12-6.5v13zM901.8 1153.5l12-6.5v13zM912.6 1147.6l12-6.5v13zM923.5 1169l12-6.5v13zM934.6 1163.7l12-6.5v13zM945.9 1154.3l12-6.5v13zM957.3 1171.2l12-6.5v13zM969 1156.2l12-6.5v13zM980.8 1173.6l12-6.5v13zM992.8 1162.9l12-6.5v13zM1004.9 1165l12-6.5v13zM1017.3 1165.6l12-6.5v13zM1029.8 1181.9l12-6.5v13zM1042.6 1186.4l12-6.5v13zM1055.5 1188.6l12-6.5v13zM1068.7 1192.6l12-6.5v13zM1082 1193.6l12-6.5v13zM1095.6 1186.4l12-6.5v13zM1109.4 1206.5l12-6.5v13zM1123.3 1187.8l12-6.5v13zM1137.5 1189.6l12-6.5v13zM1152 1178.9l12-6.5v13zM1166.6 1210l12-6.5v13zM1181.5 1210.5l12-6.5v13zM1196.6 1186.4l12-6.5v13zM1211.9 1206.5l12-6.5v13zM1227.4 1199.3l12-6.5v13zM1243.3 1203.8l12-6.5v13zM1259.3 1197.1l12-6.5v13zM1275.6 1212.4l12-6.5v13zM1292.2 1209.2l12-6.5v13zM1309 1193.1l12-6.5v13zM1326 1216.4l12-6.5v13zM1343.4 1227.8l12-6.5v13zM1361 1229.1l12-6.5v13zM1378.8 1215.2l12-6.5v13zM1397 1231l12-6.5v13zM1415.4 1220.3l12-6.5v13zM1434.1 1215.7l12-6.5v13zM1453.1 1206.4l12-6.5v13zM1472.4 1219.2l12-6.5v13zM1492 1231.8l12-6.5v13zM1511.9 1212.5l12-6.5v13zM1532.1 1214.4l12-6.5v13zM1552.6 1236.3l12-6.5v13zM1573.5 1227.8l12-6.5v13zM1594.6 1211.2l12-6.5v13zM1616.1 1243.8l12-6.5v13zM1638 1235l12-6.5v13zM1660.1 1230.4l12-6.5v13zM1682.6 1231l12-6.5v13zM1705.5 1255.1l12-6.5v13zM1728.7 1249.2l12-6.5v13zM1752.2 1239.8l12-6.5v13zM1776.1 1231l12-6.5v13zM1800.4 1251l12-6.5v13z"/>
</g>
<g class="tick" text-anchor="middle" letter-spacing="1.8">
<text x="212.7" y="1359">0</text>
<text x="426.1" y="1359">200</text>
<text x="639.5" y="1359">400</text>
<text x="852.9" y="1359">600</text>
<text x="1066.3" y="1359">800</text>
<text x="1279.7" y="1359">1000</text>
<text x="1493.1" y="1359">1200</text>
<text x="1706.5" y="1359">1400</text>
</g>
<g class="tick" text-anchor="end">
<text x="159" y="1294.8">0.0</text>
<text x="159" y="1079.6">0.2</text>
<text x="159" y="864.5">0.4</text>
<text x="159" y="649.3">0.6</text>
<text x="159" y="434.2">0.8</text>
<text x="159" y="219">1.0</text>
</g>
<text class="lab" text-anchor="middle" x="1008" y="1449">time(ps)</text>
<text style="font-size:58.5px" transform="translate(76.2 918) rotate(-90) scale(1 1.06)"><tspan x="-1">Normalized </tspan><tspan x="307.5" font-weight="normal" font-size="53">Δ</tspan><tspan x="341.8">OD</tspan></text>
<g shape-rendering="crispEdges">
<circle cx="1301" cy="145.3" r="4.5" fill="#ff0000"/>
<rect x="1297" y="228.8" width="8" height="10" fill="#000"/>
<path d="M1301 314.1l6.5 11h-13z" fill="#0000ff"/>
<path d="M1301 418.8l-6.5-11h13z" fill="#008080"/>
<path d="M1294.5 498.2l11-6.5v13z" fill="#ff00ff"/>
</g>
<text class="leg" transform="translate(0 163.7) scale(1 0.95)"><tspan x="1382.0" y="0" letter-spacing="1.3">MAPbI</tspan><tspan class="sub" x="1566.8" y="20.0">3</tspan></text>
<text class="leg" transform="translate(0 251.5) scale(1 0.95)"><tspan x="1381.9" y="0">Cs</tspan><tspan class="sub" x="1445.5" y="20.0" letter-spacing="1.1">0.05</tspan><tspan x="1516.4" y="0">MA</tspan><tspan class="sub" x="1611.1" y="20.0" letter-spacing="1.1">0.95</tspan><tspan x="1682.8" y="0">PbI</tspan><tspan class="sub" x="1771.0" y="20.0">3</tspan></text>
<text class="leg" transform="translate(0 339.8) scale(1 0.95)"><tspan x="1381.9" y="0">Cs</tspan><tspan class="sub" x="1445.5" y="20.0" letter-spacing="1.1">0.10</tspan><tspan x="1516.4" y="0">MA</tspan><tspan class="sub" x="1611.1" y="20.0" letter-spacing="1.1">0.90</tspan><tspan x="1682.8" y="0">PbI</tspan><tspan class="sub" x="1771.0" y="20.0">3</tspan></text>
<text class="leg" transform="translate(0 428.2) scale(1 0.95)"><tspan x="1381.9" y="0">Cs</tspan><tspan class="sub" x="1445.5" y="20.0" letter-spacing="1.1">0.30</tspan><tspan x="1516.4" y="0">MA</tspan><tspan class="sub" x="1611.1" y="20.0" letter-spacing="1.1">0.70</tspan><tspan x="1682.8" y="0">PbI</tspan><tspan class="sub" x="1771.0" y="20.0">3</tspan></text>
<text class="leg" transform="translate(0 516.6) scale(1 0.95)"><tspan x="1381.9" y="0">Cs</tspan><tspan class="sub" x="1445.5" y="20.0" letter-spacing="1.1">0.50</tspan><tspan x="1516.4" y="0">MA</tspan><tspan class="sub" x="1611.1" y="20.0" letter-spacing="1.1">0.50</tspan><tspan x="1682.8" y="0">PbI</tspan><tspan class="sub" x="1771.0" y="20.0">3</tspan></text>
</svg>
</body>
</html>
